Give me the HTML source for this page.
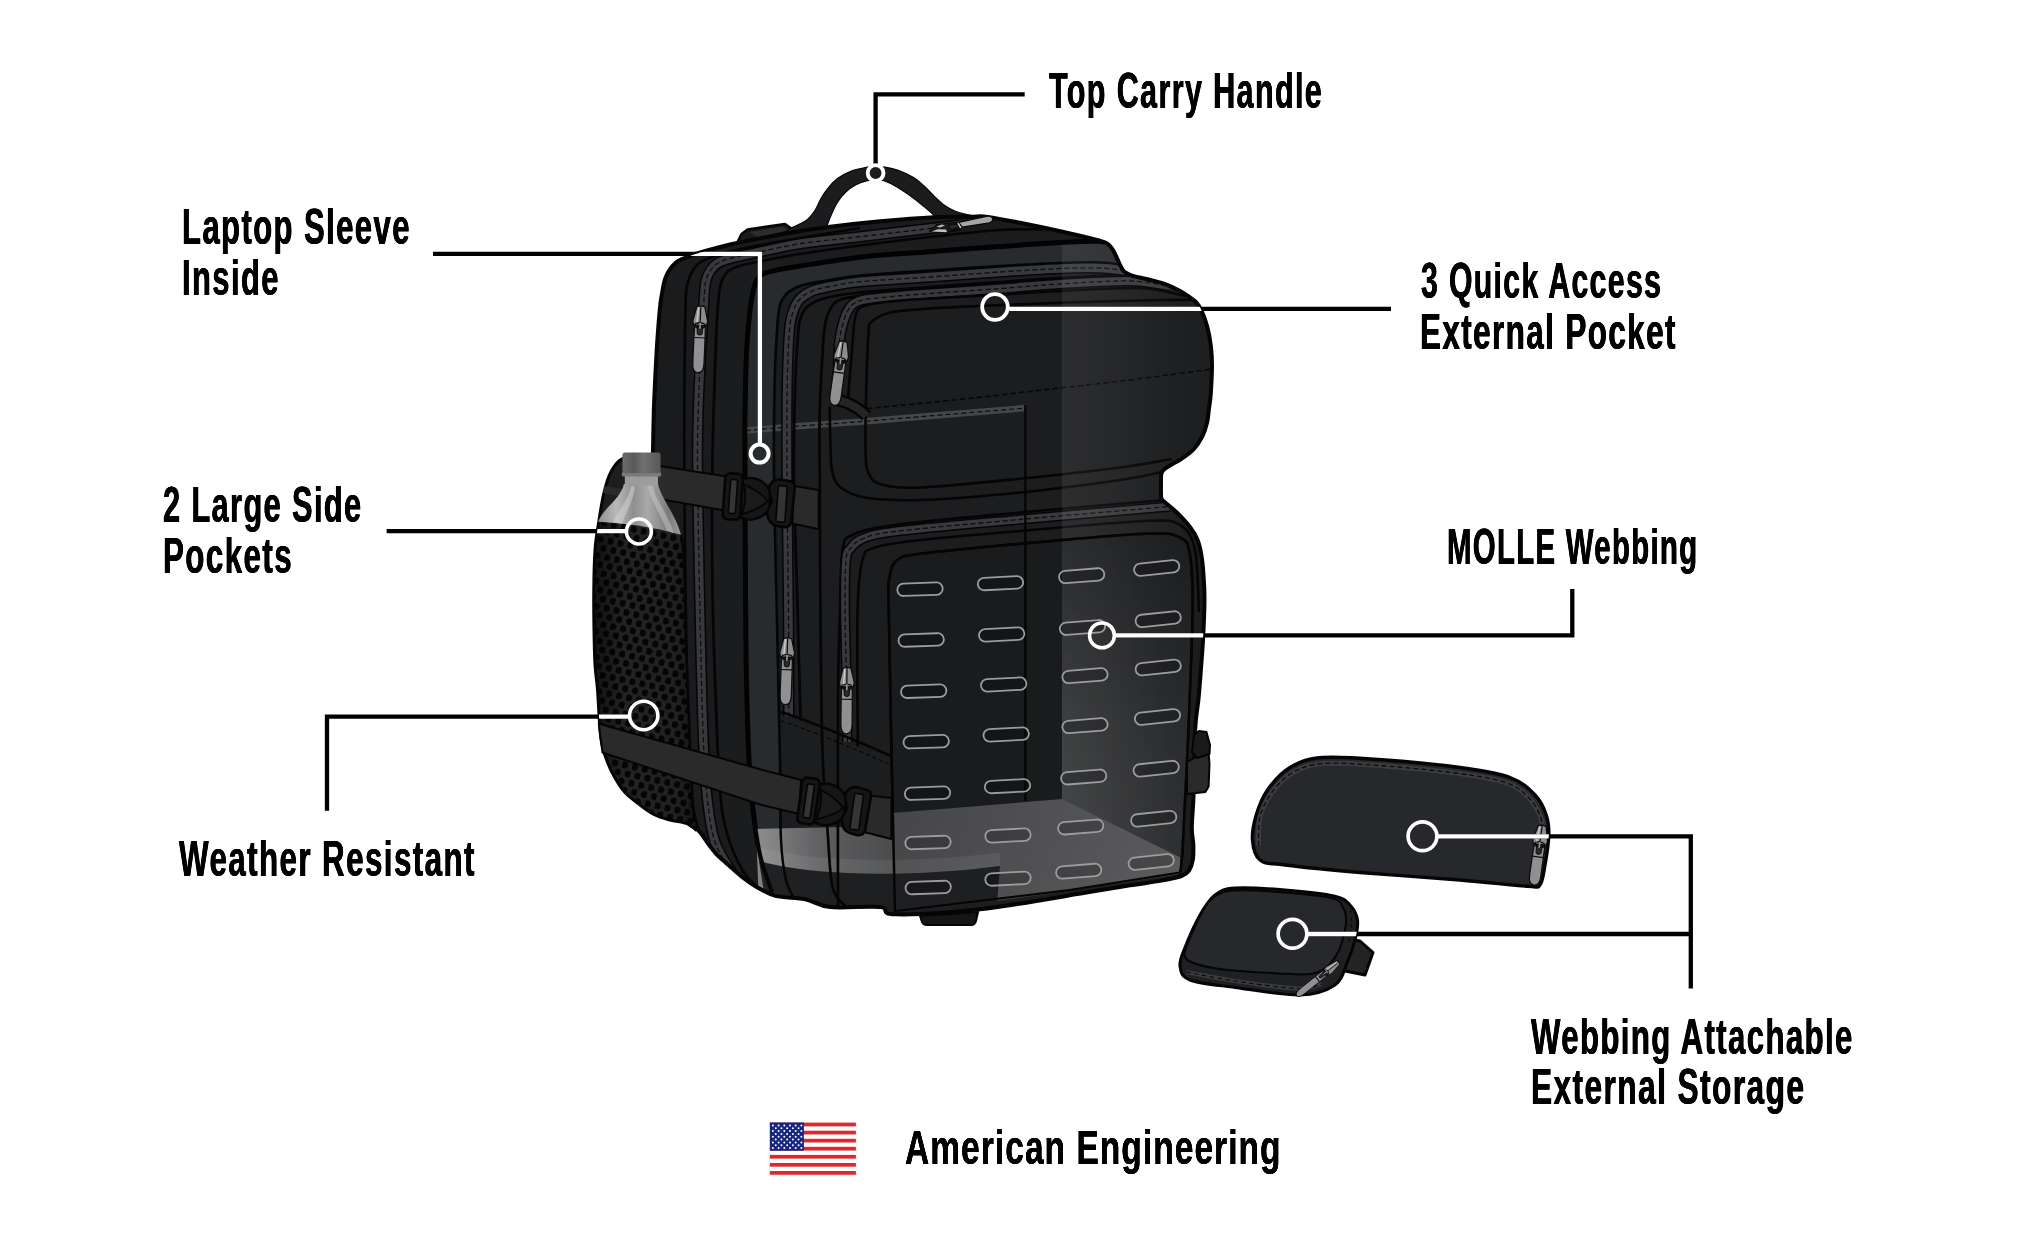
<!DOCTYPE html>
<html><head><meta charset="utf-8"><title>Backpack features</title>
<style>
html,body{margin:0;padding:0;background:#fff;}
body{width:2044px;height:1248px;position:relative;overflow:hidden;font-family:"Liberation Sans",sans-serif;}
svg{position:absolute;left:0;top:0;}
.t{position:absolute;white-space:nowrap;line-height:1;font-weight:bold;color:#000;transform-origin:0 0;letter-spacing:0;}
</style></head><body>
<svg width="2044" height="1248" viewBox="0 0 2044 1248">
<defs>
<clipPath id="cbag"><path d="M652.7,470.0C652.8,456.7 652.9,451.7 653.2,440.0C653.4,428.4 653.6,415.1 654.2,400.1C654.8,385.1 655.8,365.1 656.7,350.1C657.6,335.1 658.9,319.3 659.7,310.2C660.5,301.0 660.6,300.9 661.7,295.3C662.7,289.7 663.5,282.1 665.9,276.7C668.2,271.3 671.8,266.3 675.5,263.0C679.2,259.6 684.3,258.4 688.1,256.8C691.8,255.1 693.0,254.8 698.0,253.2C703.0,251.7 711.2,249.3 718.1,247.5C725.1,245.8 727.6,244.9 739.6,242.5C751.7,240.0 775.2,235.3 790.3,232.7C805.4,230.0 815.2,228.6 830.2,226.7C845.2,224.8 862.8,222.8 880.2,221.2C897.5,219.6 919.1,217.9 934.1,217.2C949.1,216.5 961.1,217.0 970.0,216.9C979.0,216.8 977.8,215.6 987.8,216.9C997.7,218.2 1015.0,221.7 1029.7,224.7C1044.3,227.6 1064.0,232.0 1075.6,234.7C1087.3,237.3 1094.3,239.2 1099.5,240.6C1104.8,242.1 1105.1,242.2 1107.1,243.4C1109.1,244.7 1110.2,246.1 1111.6,248.0C1113.0,249.9 1114.2,252.1 1115.5,254.8C1116.8,257.4 1118.1,261.0 1119.5,263.8C1120.9,266.5 1122.1,269.3 1123.7,271.1C1125.4,272.9 1127.3,273.6 1129.3,274.5C1131.3,275.5 1132.2,275.8 1135.6,276.6C1139.0,277.5 1144.9,278.5 1149.6,279.7C1154.3,280.8 1159.0,281.8 1163.9,283.6C1168.8,285.4 1174.9,288.2 1179.2,290.5C1183.5,292.8 1187.0,295.3 1189.9,297.3C1192.8,299.3 1194.6,300.3 1196.5,302.5C1198.4,304.7 1199.7,306.5 1201.5,310.5C1203.3,314.5 1205.7,320.7 1207.2,326.5C1208.8,332.3 1210.0,339.1 1210.8,345.5C1211.6,351.9 1212.0,356.6 1212.0,364.6C1212.0,372.6 1211.3,385.9 1210.8,393.5C1210.3,401.1 1209.4,405.2 1208.8,410.0C1208.2,414.8 1208.2,417.7 1207.2,422.0C1206.2,426.3 1204.8,431.4 1202.5,436.0C1200.2,440.6 1197.0,445.7 1193.5,449.5C1190.0,453.3 1185.4,456.1 1181.5,458.8C1177.6,461.5 1173.0,463.6 1170.0,465.5C1167.0,467.4 1165.0,468.6 1163.5,470.0C1162.0,471.4 1161.7,472.3 1161.3,474.0C1160.9,475.7 1161.0,476.7 1161.0,480.0C1161.0,483.3 1160.9,490.9 1161.0,494.0C1161.1,497.1 1161.0,497.2 1161.5,498.5C1162.0,499.8 1161.5,499.2 1164.0,501.5C1166.5,503.8 1172.5,508.2 1176.8,512.5C1181.1,516.8 1186.5,522.4 1190.0,527.0C1193.5,531.6 1195.7,535.3 1197.6,540.0C1199.5,544.7 1200.4,549.2 1201.4,555.0C1202.4,560.8 1203.0,567.5 1203.5,575.0C1204.0,582.5 1204.6,589.2 1204.5,600.0C1204.4,610.8 1203.7,627.5 1203.0,640.0C1202.3,652.5 1201.3,665.0 1200.5,675.0C1199.7,685.0 1199.3,691.0 1198.4,700.0C1197.5,709.0 1196.0,713.0 1195.2,729.0C1194.4,745.0 1194.1,779.5 1193.5,796.0C1192.9,812.5 1191.8,820.0 1191.8,828.0C1191.8,836.0 1193.1,838.7 1193.3,844.0C1193.5,849.3 1193.5,855.6 1192.8,860.0C1192.1,864.4 1190.9,867.8 1189.0,870.5C1187.1,873.2 1186.1,874.3 1181.5,876.0C1176.9,877.7 1170.1,879.0 1161.5,880.6C1152.9,882.2 1141.8,883.5 1130.0,885.4C1118.2,887.3 1115.7,887.8 1090.7,891.8C1065.7,895.8 1012.4,905.6 979.8,909.3C947.2,913.1 911.6,914.7 895.0,914.3C878.4,913.9 891.0,908.3 880.2,907.1C869.4,905.9 842.6,908.3 830.2,907.1C817.7,905.8 814.5,901.2 805.3,899.3C796.2,897.5 783.7,898.0 775.4,895.9C767.2,893.7 761.6,889.8 755.8,886.5C750.1,883.2 745.7,879.8 741.1,876.2C736.4,872.5 732.3,868.5 728.1,864.7C724.0,861.0 719.5,857.3 716.2,853.8C712.9,850.4 710.8,847.3 708.4,844.0C705.9,840.7 703.6,836.8 701.4,834.0C699.1,831.1 697.2,828.6 695.1,826.7C693.1,824.9 691.3,827.5 689.0,823.0C686.8,818.5 685.4,820.2 681.7,799.7C677.9,779.2 671.3,733.1 666.7,699.8C662.0,666.5 656.0,629.8 653.7,599.9C651.4,569.9 652.9,541.6 652.7,520.0C652.5,498.3 652.6,483.3 652.7,470.0Z"/><path d="M640.0,456.0C637.0,456.5 626.5,456.4 621.7,459.0C616.9,461.6 614.0,466.1 611.0,471.7C608.0,477.3 606.0,484.2 604.0,492.5C602.0,500.8 600.2,512.1 598.8,521.7C597.2,531.3 595.8,538.6 595.0,550.0C594.2,561.4 593.9,576.7 593.8,590.0C593.6,603.3 593.8,617.5 594.0,630.0C594.2,642.5 594.4,655.0 595.0,665.0C595.6,675.0 596.7,679.2 597.5,690.0C598.3,700.8 599.2,720.8 600.0,730.0C600.8,739.2 600.8,739.6 602.0,745.0C603.2,750.4 605.3,757.0 607.5,762.5C609.7,768.0 612.1,773.0 615.0,778.0C617.9,783.0 620.8,788.0 625.0,792.5C629.2,797.0 635.0,801.2 640.0,805.0C645.0,808.8 650.0,812.5 655.0,815.0C660.0,817.5 664.6,818.5 670.0,820.0C675.4,821.5 683.2,822.1 687.5,823.8C691.8,825.4 694.6,829.0 696.0,830.0L694.0,822.0C693.7,816.7 692.8,807.0 692.0,790.0C691.2,773.0 690.0,745.0 689.0,720.0C688.0,695.0 686.8,666.7 686.0,640.0C685.2,613.3 684.8,577.6 684.0,560.0C683.2,542.4 681.5,538.8 681.0,534.5L664,500 L660,470 Z"/></clipPath>
<clipPath id="cbody"><path d="M652.7,470.0C652.8,456.7 652.9,451.7 653.2,440.0C653.4,428.4 653.6,415.1 654.2,400.1C654.8,385.1 655.8,365.1 656.7,350.1C657.6,335.1 658.9,319.3 659.7,310.2C660.5,301.0 660.6,300.9 661.7,295.3C662.7,289.7 663.5,282.1 665.9,276.7C668.2,271.3 671.8,266.3 675.5,263.0C679.2,259.6 684.3,258.4 688.1,256.8C691.8,255.1 693.0,254.8 698.0,253.2C703.0,251.7 711.2,249.3 718.1,247.5C725.1,245.8 727.6,244.9 739.6,242.5C751.7,240.0 775.2,235.3 790.3,232.7C805.4,230.0 815.2,228.6 830.2,226.7C845.2,224.8 862.8,222.8 880.2,221.2C897.5,219.6 919.1,217.9 934.1,217.2C949.1,216.5 961.1,217.0 970.0,216.9C979.0,216.8 977.8,215.6 987.8,216.9C997.7,218.2 1015.0,221.7 1029.7,224.7C1044.3,227.6 1064.0,232.0 1075.6,234.7C1087.3,237.3 1094.3,239.2 1099.5,240.6C1104.8,242.1 1105.1,242.2 1107.1,243.4C1109.1,244.7 1110.2,246.1 1111.6,248.0C1113.0,249.9 1114.2,252.1 1115.5,254.8C1116.8,257.4 1118.1,261.0 1119.5,263.8C1120.9,266.5 1122.1,269.3 1123.7,271.1C1125.4,272.9 1127.3,273.6 1129.3,274.5C1131.3,275.5 1132.2,275.8 1135.6,276.6C1139.0,277.5 1144.9,278.5 1149.6,279.7C1154.3,280.8 1159.0,281.8 1163.9,283.6C1168.8,285.4 1174.9,288.2 1179.2,290.5C1183.5,292.8 1187.0,295.3 1189.9,297.3C1192.8,299.3 1194.6,300.3 1196.5,302.5C1198.4,304.7 1199.7,306.5 1201.5,310.5C1203.3,314.5 1205.7,320.7 1207.2,326.5C1208.8,332.3 1210.0,339.1 1210.8,345.5C1211.6,351.9 1212.0,356.6 1212.0,364.6C1212.0,372.6 1211.3,385.9 1210.8,393.5C1210.3,401.1 1209.4,405.2 1208.8,410.0C1208.2,414.8 1208.2,417.7 1207.2,422.0C1206.2,426.3 1204.8,431.4 1202.5,436.0C1200.2,440.6 1197.0,445.7 1193.5,449.5C1190.0,453.3 1185.4,456.1 1181.5,458.8C1177.6,461.5 1173.0,463.6 1170.0,465.5C1167.0,467.4 1165.0,468.6 1163.5,470.0C1162.0,471.4 1161.7,472.3 1161.3,474.0C1160.9,475.7 1161.0,476.7 1161.0,480.0C1161.0,483.3 1160.9,490.9 1161.0,494.0C1161.1,497.1 1161.0,497.2 1161.5,498.5C1162.0,499.8 1161.5,499.2 1164.0,501.5C1166.5,503.8 1172.5,508.2 1176.8,512.5C1181.1,516.8 1186.5,522.4 1190.0,527.0C1193.5,531.6 1195.7,535.3 1197.6,540.0C1199.5,544.7 1200.4,549.2 1201.4,555.0C1202.4,560.8 1203.0,567.5 1203.5,575.0C1204.0,582.5 1204.6,589.2 1204.5,600.0C1204.4,610.8 1203.7,627.5 1203.0,640.0C1202.3,652.5 1201.3,665.0 1200.5,675.0C1199.7,685.0 1199.3,691.0 1198.4,700.0C1197.5,709.0 1196.0,713.0 1195.2,729.0C1194.4,745.0 1194.1,779.5 1193.5,796.0C1192.9,812.5 1191.8,820.0 1191.8,828.0C1191.8,836.0 1193.1,838.7 1193.3,844.0C1193.5,849.3 1193.5,855.6 1192.8,860.0C1192.1,864.4 1190.9,867.8 1189.0,870.5C1187.1,873.2 1186.1,874.3 1181.5,876.0C1176.9,877.7 1170.1,879.0 1161.5,880.6C1152.9,882.2 1141.8,883.5 1130.0,885.4C1118.2,887.3 1115.7,887.8 1090.7,891.8C1065.7,895.8 1012.4,905.6 979.8,909.3C947.2,913.1 911.6,914.7 895.0,914.3C878.4,913.9 891.0,908.3 880.2,907.1C869.4,905.9 842.6,908.3 830.2,907.1C817.7,905.8 814.5,901.2 805.3,899.3C796.2,897.5 783.7,898.0 775.4,895.9C767.2,893.7 761.6,889.8 755.8,886.5C750.1,883.2 745.7,879.8 741.1,876.2C736.4,872.5 732.3,868.5 728.1,864.7C724.0,861.0 719.5,857.3 716.2,853.8C712.9,850.4 710.8,847.3 708.4,844.0C705.9,840.7 703.6,836.8 701.4,834.0C699.1,831.1 697.2,828.6 695.1,826.7C693.1,824.9 691.3,827.5 689.0,823.0C686.8,818.5 685.4,820.2 681.7,799.7C677.9,779.2 671.3,733.1 666.7,699.8C662.0,666.5 656.0,629.8 653.7,599.9C651.4,569.9 652.9,541.6 652.7,520.0C652.5,498.3 652.6,483.3 652.7,470.0Z"/></clipPath>
<clipPath id="cside"><path d="M640.0,456.0C637.0,456.5 626.5,456.4 621.7,459.0C616.9,461.6 614.0,466.1 611.0,471.7C608.0,477.3 606.0,484.2 604.0,492.5C602.0,500.8 600.2,512.1 598.8,521.7C597.2,531.3 595.8,538.6 595.0,550.0C594.2,561.4 593.9,576.7 593.8,590.0C593.6,603.3 593.8,617.5 594.0,630.0C594.2,642.5 594.4,655.0 595.0,665.0C595.6,675.0 596.7,679.2 597.5,690.0C598.3,700.8 599.2,720.8 600.0,730.0C600.8,739.2 600.8,739.6 602.0,745.0C603.2,750.4 605.3,757.0 607.5,762.5C609.7,768.0 612.1,773.0 615.0,778.0C617.9,783.0 620.8,788.0 625.0,792.5C629.2,797.0 635.0,801.2 640.0,805.0C645.0,808.8 650.0,812.5 655.0,815.0C660.0,817.5 664.6,818.5 670.0,820.0C675.4,821.5 683.2,822.1 687.5,823.8C691.8,825.4 694.6,829.0 696.0,830.0L694.0,822.0C693.7,816.7 692.8,807.0 692.0,790.0C691.2,773.0 690.0,745.0 689.0,720.0C688.0,695.0 686.8,666.7 686.0,640.0C685.2,613.3 684.8,577.6 684.0,560.0C683.2,542.4 681.5,538.8 681.0,534.5L664,500 L660,470 Z"/></clipPath>
<pattern id="mesh" width="10.1" height="16.6" patternUnits="userSpaceOnUse" patternTransform="rotate(12)">
<rect width="10.1" height="16.6" fill="#232323"/>
<circle cx="2.525" cy="4.15" r="3.45" fill="#050505"/><circle cx="7.575" cy="12.45" r="3.45" fill="#050505"/>
</pattern>
<linearGradient id="meshsh" x1="0" x2="1" y1="0" y2="0">
<stop offset="0" stop-color="#000" stop-opacity=".5"/><stop offset=".3" stop-color="#000" stop-opacity="0"/><stop offset=".8" stop-color="#000" stop-opacity=".05"/><stop offset="1" stop-color="#000" stop-opacity=".4"/>
</linearGradient>
<linearGradient id="bot" x1="0" x2="1" y1="0" y2="0">
<stop offset="0" stop-color="#8d8d8d"/><stop offset=".22" stop-color="#b9b9b9"/><stop offset=".42" stop-color="#8f8f8f"/><stop offset=".6" stop-color="#a9a9a9"/><stop offset=".85" stop-color="#7b7b7b"/><stop offset="1" stop-color="#9a9a9a"/>
</linearGradient>
<linearGradient id="cap" x1="0" x2="1" y1="0" y2="0">
<stop offset="0" stop-color="#6a6a6a"/><stop offset=".3" stop-color="#5a5a5a"/><stop offset=".55" stop-color="#707070"/><stop offset="1" stop-color="#585858"/>
</linearGradient>
</defs>
<path d="M737.0,243.0L741.5,234.0L747.5,229.5L785.0,224.0L792.0,229.0L770.0,242.0Z" fill="#1b1b1d" stroke="#050505" stroke-width="2.5" stroke-linejoin="round"/>
<path d="M750.0,232.0L784.0,226.5L787.0,230.0L760.0,239.0Z" fill="#2c2c2e"/>
<path d="M786.0,232.0C786.7,231.4 787.0,230.4 790.3,228.5C793.6,226.6 801.6,223.8 805.7,220.8C809.8,217.8 812.3,214.3 814.9,210.5C817.5,206.7 818.9,202.0 821.1,198.2C823.3,194.4 825.6,191.2 828.3,187.9C831.0,184.6 833.6,181.4 837.5,178.6C841.4,175.8 846.9,172.8 851.9,170.9C856.9,169.0 863.4,167.9 867.3,167.1C871.2,166.3 872.6,166.3 875.5,166.3C878.4,166.3 881.0,166.4 884.8,167.1C888.6,167.8 893.4,168.7 898.2,170.4C903.0,172.2 909.3,175.0 913.6,177.6C917.9,180.2 920.4,182.7 923.8,185.8C927.2,188.9 930.7,192.8 934.1,196.1C937.5,199.3 941.0,202.8 944.4,205.3C947.8,207.8 951.3,209.5 954.7,211.0C958.1,212.5 960.5,213.1 965.0,214.1C969.5,215.1 979.2,216.5 982.0,217.0L934.5,217.0C934.3,216.6 934.9,216.4 933.1,214.6C931.3,212.8 927.0,209.1 923.8,206.4C920.5,203.7 917.0,200.8 913.6,198.2C910.2,195.6 906.7,193.2 903.3,191.0C899.9,188.8 896.2,186.5 893.0,184.8C889.8,183.1 886.7,181.5 883.8,180.7C880.9,179.8 878.2,179.7 875.5,179.7C872.8,179.7 870.5,179.8 867.3,180.7C864.0,181.5 859.6,182.9 856.0,184.8C852.4,186.7 848.9,189.1 845.8,192.0C842.7,194.9 839.9,198.5 837.5,202.3C835.1,206.1 833.1,210.8 831.4,214.6C829.7,218.4 828.1,222.8 827.3,224.9C826.5,227.0 826.6,226.7 826.5,227.0Z" fill="#1c1c1e" stroke="#050505" stroke-width="1.2" stroke-linejoin="round"/>
<path d="M652.7,470.0C652.8,456.7 652.9,451.7 653.2,440.0C653.4,428.4 653.6,415.1 654.2,400.1C654.8,385.1 655.8,365.1 656.7,350.1C657.6,335.1 658.9,319.3 659.7,310.2C660.5,301.0 660.6,300.9 661.7,295.3C662.7,289.7 663.5,282.1 665.9,276.7C668.2,271.3 671.8,266.3 675.5,263.0C679.2,259.6 684.3,258.4 688.1,256.8C691.8,255.1 693.0,254.8 698.0,253.2C703.0,251.7 711.2,249.3 718.1,247.5C725.1,245.8 727.6,244.9 739.6,242.5C751.7,240.0 775.2,235.3 790.3,232.7C805.4,230.0 815.2,228.6 830.2,226.7C845.2,224.8 862.8,222.8 880.2,221.2C897.5,219.6 919.1,217.9 934.1,217.2C949.1,216.5 961.1,217.0 970.0,216.9C979.0,216.8 977.8,215.6 987.8,216.9C997.7,218.2 1015.0,221.7 1029.7,224.7C1044.3,227.6 1064.0,232.0 1075.6,234.7C1087.3,237.3 1094.3,239.2 1099.5,240.6C1104.8,242.1 1105.1,242.2 1107.1,243.4C1109.1,244.7 1110.2,246.1 1111.6,248.0C1113.0,249.9 1114.2,252.1 1115.5,254.8C1116.8,257.4 1118.1,261.0 1119.5,263.8C1120.9,266.5 1122.1,269.3 1123.7,271.1C1125.4,272.9 1127.3,273.6 1129.3,274.5C1131.3,275.5 1132.2,275.8 1135.6,276.6C1139.0,277.5 1144.9,278.5 1149.6,279.7C1154.3,280.8 1159.0,281.8 1163.9,283.6C1168.8,285.4 1174.9,288.2 1179.2,290.5C1183.5,292.8 1187.0,295.3 1189.9,297.3C1192.8,299.3 1194.6,300.3 1196.5,302.5C1198.4,304.7 1199.7,306.5 1201.5,310.5C1203.3,314.5 1205.7,320.7 1207.2,326.5C1208.8,332.3 1210.0,339.1 1210.8,345.5C1211.6,351.9 1212.0,356.6 1212.0,364.6C1212.0,372.6 1211.3,385.9 1210.8,393.5C1210.3,401.1 1209.4,405.2 1208.8,410.0C1208.2,414.8 1208.2,417.7 1207.2,422.0C1206.2,426.3 1204.8,431.4 1202.5,436.0C1200.2,440.6 1197.0,445.7 1193.5,449.5C1190.0,453.3 1185.4,456.1 1181.5,458.8C1177.6,461.5 1173.0,463.6 1170.0,465.5C1167.0,467.4 1165.0,468.6 1163.5,470.0C1162.0,471.4 1161.7,472.3 1161.3,474.0C1160.9,475.7 1161.0,476.7 1161.0,480.0C1161.0,483.3 1160.9,490.9 1161.0,494.0C1161.1,497.1 1161.0,497.2 1161.5,498.5C1162.0,499.8 1161.5,499.2 1164.0,501.5C1166.5,503.8 1172.5,508.2 1176.8,512.5C1181.1,516.8 1186.5,522.4 1190.0,527.0C1193.5,531.6 1195.7,535.3 1197.6,540.0C1199.5,544.7 1200.4,549.2 1201.4,555.0C1202.4,560.8 1203.0,567.5 1203.5,575.0C1204.0,582.5 1204.6,589.2 1204.5,600.0C1204.4,610.8 1203.7,627.5 1203.0,640.0C1202.3,652.5 1201.3,665.0 1200.5,675.0C1199.7,685.0 1199.3,691.0 1198.4,700.0C1197.5,709.0 1196.0,713.0 1195.2,729.0C1194.4,745.0 1194.1,779.5 1193.5,796.0C1192.9,812.5 1191.8,820.0 1191.8,828.0C1191.8,836.0 1193.1,838.7 1193.3,844.0C1193.5,849.3 1193.5,855.6 1192.8,860.0C1192.1,864.4 1190.9,867.8 1189.0,870.5C1187.1,873.2 1186.1,874.3 1181.5,876.0C1176.9,877.7 1170.1,879.0 1161.5,880.6C1152.9,882.2 1141.8,883.5 1130.0,885.4C1118.2,887.3 1115.7,887.8 1090.7,891.8C1065.7,895.8 1012.4,905.6 979.8,909.3C947.2,913.1 911.6,914.7 895.0,914.3C878.4,913.9 891.0,908.3 880.2,907.1C869.4,905.9 842.6,908.3 830.2,907.1C817.7,905.8 814.5,901.2 805.3,899.3C796.2,897.5 783.7,898.0 775.4,895.9C767.2,893.7 761.6,889.8 755.8,886.5C750.1,883.2 745.7,879.8 741.1,876.2C736.4,872.5 732.3,868.5 728.1,864.7C724.0,861.0 719.5,857.3 716.2,853.8C712.9,850.4 710.8,847.3 708.4,844.0C705.9,840.7 703.6,836.8 701.4,834.0C699.1,831.1 697.2,828.6 695.1,826.7C693.1,824.9 691.3,827.5 689.0,823.0C686.8,818.5 685.4,820.2 681.7,799.7C677.9,779.2 671.3,733.1 666.7,699.8C662.0,666.5 656.0,629.8 653.7,599.9C651.4,569.9 652.9,541.6 652.7,520.0C652.5,498.3 652.6,483.3 652.7,470.0Z" fill="#1a1b1d"/>
<g clip-path="url(#cbody)">
<path d="M772.0,892.0C770.0,885.8 763.2,869.5 760.0,855.0C756.8,840.5 754.3,820.8 752.5,805.0C750.7,789.2 750.0,780.8 749.0,760.0C748.0,739.2 747.1,708.3 746.5,680.0C745.9,651.7 745.8,624.5 745.5,590.0C745.2,555.5 745.1,502.4 745.0,472.7C744.9,443.0 744.7,432.1 745.0,411.8C745.3,391.5 745.9,367.1 746.6,351.0C747.4,334.9 748.4,325.2 749.5,315.0C750.6,304.8 752.1,295.8 753.4,290.0C754.6,284.2 755.4,282.7 757.0,280.0C758.6,277.3 759.9,275.6 763.0,274.0C766.1,272.4 769.2,271.7 775.4,270.4C781.6,269.1 785.9,268.2 800.0,266.0C814.1,263.8 838.3,259.6 860.0,257.2C881.7,254.8 906.7,253.5 930.0,251.7C953.3,249.9 978.3,248.0 1000.0,246.5C1021.7,245.0 1043.3,243.4 1060.0,242.6C1076.7,241.8 1091.0,240.9 1100.0,241.5C1109.0,242.1 1111.7,245.2 1114.0,246.0L1122.0,265.0C1118.3,264.6 1110.3,262.8 1100.0,262.5C1089.7,262.2 1076.7,262.4 1060.0,263.0C1043.3,263.6 1021.7,264.8 1000.0,266.0C978.3,267.2 953.3,268.9 930.0,270.5C906.7,272.1 876.7,273.9 860.0,275.5C843.3,277.1 839.5,278.4 830.0,280.0C820.5,281.6 810.0,282.9 803.0,285.0C796.0,287.1 791.8,289.2 788.0,292.5C784.2,295.8 781.8,298.8 780.0,305.0C778.2,311.2 777.9,317.3 777.0,330.0C776.1,342.7 775.2,357.6 774.7,381.4C774.2,405.2 773.7,436.3 774.0,472.7C774.3,509.1 775.5,552.1 776.5,600.0C777.5,647.9 779.2,720.0 780.0,760.0C780.8,800.0 780.0,820.0 781.0,840.0C782.0,860.0 783.7,870.0 786.0,880.0C788.3,890.0 793.5,896.7 795.0,900.0Z" fill="#282b2e"/>
<path d="M758.0,888.0C755.4,885.0 747.6,878.8 742.5,870.0C737.4,861.2 731.2,848.3 727.5,835.0C723.8,821.7 722.1,815.8 720.0,790.0C717.9,764.2 716.2,713.3 715.0,680.0C713.8,646.7 713.0,624.5 712.5,590.0C712.0,555.5 711.9,507.5 712.3,472.7C712.6,437.9 713.8,406.8 714.6,381.4C715.4,355.9 716.2,334.9 717.0,320.0C717.8,305.1 718.4,298.6 719.2,292.0C720.0,285.4 720.5,284.0 722.0,280.5C723.5,277.0 725.6,273.4 728.5,271.0C731.4,268.6 734.4,267.6 739.3,266.0C744.2,264.4 747.6,263.7 757.7,261.7C767.8,259.7 783.0,256.7 800.0,254.0C817.0,251.3 838.3,248.3 860.0,245.5C881.7,242.7 906.7,239.6 930.0,237.0C953.3,234.4 978.3,231.3 1000.0,230.0C1021.7,228.7 1050.0,229.2 1060.0,229.0L1114.0,246.0C1111.7,245.2 1109.0,242.1 1100.0,241.5C1091.0,240.9 1076.7,241.8 1060.0,242.6C1043.3,243.4 1021.7,245.0 1000.0,246.5C978.3,248.0 953.3,249.9 930.0,251.7C906.7,253.5 881.7,254.8 860.0,257.2C838.3,259.6 814.1,263.8 800.0,266.0C785.9,268.2 781.6,269.1 775.4,270.4C769.2,271.7 766.1,272.4 763.0,274.0C759.9,275.6 758.6,277.3 757.0,280.0C755.4,282.7 754.6,284.2 753.4,290.0C752.1,295.8 750.6,304.8 749.5,315.0C748.4,325.2 747.4,334.9 746.6,351.0C745.9,367.1 745.3,391.5 745.0,411.8C744.7,432.1 744.9,443.0 745.0,472.7C745.1,502.4 745.2,555.5 745.5,590.0C745.8,624.5 745.9,651.7 746.5,680.0C747.1,708.3 748.0,739.2 749.0,760.0C750.0,780.8 750.7,789.2 752.5,805.0C754.3,820.8 756.8,840.5 760.0,855.0C763.2,869.5 770.0,885.8 772.0,892.0Z" fill="#1b1c1e"/>
<path d="M795.0,900.0C793.5,896.7 788.3,890.0 786.0,880.0C783.7,870.0 782.0,860.0 781.0,840.0C780.0,820.0 780.8,800.0 780.0,760.0C779.2,720.0 777.5,647.9 776.5,600.0C775.5,552.1 774.3,509.1 774.0,472.7C773.7,436.3 774.2,405.2 774.7,381.4C775.2,357.6 776.1,342.7 777.0,330.0C777.9,317.3 778.2,311.2 780.0,305.0C781.8,298.8 784.2,295.8 788.0,292.5C791.8,289.2 796.0,287.1 803.0,285.0C810.0,282.9 820.5,281.6 830.0,280.0C839.5,278.4 843.3,277.1 860.0,275.5C876.7,273.9 906.7,272.1 930.0,270.5C953.3,268.9 978.3,267.2 1000.0,266.0C1021.7,264.8 1043.3,263.6 1060.0,263.0C1076.7,262.4 1089.7,262.2 1100.0,262.5C1110.3,262.8 1118.3,264.6 1122.0,265.0L1215,300 L1215,930 L800,930Z" fill="#1c1d1f"/>
<path d="M746.0,430.5L800.0,426.0L860.0,421.7L1026.0,408.0" fill="none" stroke="#444648" stroke-width="6.5"/>
<path d="M746.0,430.5L800.0,426.0L860.0,421.7L1026.0,408.0" fill="none" stroke="#0c0c0c" stroke-width="1.2" stroke-dasharray="5 3"/>
<path d="M700.0,835.0C699.0,831.2 695.6,820.3 694.0,812.0C692.4,803.7 691.4,797.0 690.5,785.0C689.6,773.0 689.1,757.5 688.5,740.0C687.9,722.5 687.5,705.0 687.0,680.0C686.5,655.0 686.0,627.1 685.5,590.0C685.0,552.9 684.4,493.3 684.2,457.5C684.0,421.7 684.2,401.2 684.5,375.0C684.8,348.8 685.1,315.5 685.7,300.0C686.3,284.5 686.8,287.0 688.0,282.0C689.2,277.0 691.0,273.2 693.0,270.0C695.0,266.8 696.8,264.7 700.0,262.5C703.2,260.3 705.3,259.2 712.0,257.0C718.7,254.8 725.3,252.2 740.0,249.0C754.7,245.8 780.0,241.5 800.0,238.0C820.0,234.5 850.0,229.7 860.0,228.0" fill="none" stroke="#050505" stroke-width="2.6"/>
<path d="M795.0,900.0C793.5,896.7 788.3,890.0 786.0,880.0C783.7,870.0 782.0,860.0 781.0,840.0C780.0,820.0 780.8,800.0 780.0,760.0C779.2,720.0 777.5,647.9 776.5,600.0C775.5,552.1 774.3,509.1 774.0,472.7C773.7,436.3 774.2,405.2 774.7,381.4C775.2,357.6 776.1,342.7 777.0,330.0C777.9,317.3 778.2,311.2 780.0,305.0C781.8,298.8 784.2,295.8 788.0,292.5C791.8,289.2 796.0,287.1 803.0,285.0C810.0,282.9 820.5,281.6 830.0,280.0C839.5,278.4 843.3,277.1 860.0,275.5C876.7,273.9 906.7,272.1 930.0,270.5C953.3,268.9 978.3,267.2 1000.0,266.0C1021.7,264.8 1043.3,263.6 1060.0,263.0C1076.7,262.4 1089.7,262.2 1100.0,262.5C1110.3,262.8 1118.3,264.6 1122.0,265.0" fill="none" stroke="#050505" stroke-width="2.6"/>
<path d="M758.0,888.0C755.4,885.0 747.6,878.8 742.5,870.0C737.4,861.2 731.2,848.3 727.5,835.0C723.8,821.7 722.1,815.8 720.0,790.0C717.9,764.2 716.2,713.3 715.0,680.0C713.8,646.7 713.0,624.5 712.5,590.0C712.0,555.5 711.9,507.5 712.3,472.7C712.6,437.9 713.8,406.8 714.6,381.4C715.4,355.9 716.2,334.9 717.0,320.0C717.8,305.1 718.4,298.6 719.2,292.0C720.0,285.4 720.5,284.0 722.0,280.5C723.5,277.0 725.6,273.4 728.5,271.0C731.4,268.6 734.4,267.6 739.3,266.0C744.2,264.4 747.6,263.7 757.7,261.7C767.8,259.7 783.0,256.7 800.0,254.0C817.0,251.3 838.3,248.3 860.0,245.5C881.7,242.7 906.7,239.6 930.0,237.0C953.3,234.4 978.3,231.3 1000.0,230.0C1021.7,228.7 1050.0,229.2 1060.0,229.0" fill="none" stroke="#050505" stroke-width="2.7"/>
<path d="M772.0,892.0C770.0,885.8 763.2,869.5 760.0,855.0C756.8,840.5 754.3,820.8 752.5,805.0C750.7,789.2 750.0,780.8 749.0,760.0C748.0,739.2 747.1,708.3 746.5,680.0C745.9,651.7 745.8,624.5 745.5,590.0C745.2,555.5 745.1,502.4 745.0,472.7C744.9,443.0 744.7,432.1 745.0,411.8C745.3,391.5 745.9,367.1 746.6,351.0C747.4,334.9 748.4,325.2 749.5,315.0C750.6,304.8 752.1,295.8 753.4,290.0C754.6,284.2 755.4,282.7 757.0,280.0C758.6,277.3 759.9,275.6 763.0,274.0C766.1,272.4 769.2,271.7 775.4,270.4C781.6,269.1 785.9,268.2 800.0,266.0C814.1,263.8 838.3,259.6 860.0,257.2C881.7,254.8 906.7,253.5 930.0,251.7C953.3,249.9 978.3,248.0 1000.0,246.5C1021.7,245.0 1043.3,243.4 1060.0,242.6C1076.7,241.8 1091.0,240.9 1100.0,241.5C1109.0,242.1 1111.7,245.2 1114.0,246.0" fill="none" stroke="#020202" stroke-width="5"/>
<path d="M800.6,720.5C800.0,700.4 798.4,641.3 797.3,600.0C796.2,558.7 794.1,509.1 793.8,472.7C793.5,436.3 794.6,404.3 795.3,381.4C796.0,358.4 797.2,345.2 798.0,335.0C798.8,324.8 798.7,324.5 800.0,320.0C801.3,315.5 803.0,311.2 806.0,308.0C809.0,304.8 813.2,302.5 818.0,300.5C822.8,298.5 828.0,297.3 835.0,296.0C842.0,294.7 844.2,294.0 860.0,292.5C875.8,291.0 906.7,288.8 930.0,287.0C953.3,285.2 978.3,283.5 1000.0,282.0C1021.7,280.5 1038.3,279.3 1060.0,278.0C1081.7,276.7 1118.3,274.7 1130.0,274.0" fill="none" stroke="#050505" stroke-width="2.7"/>
<path d="M845.0,906.0C842.9,902.8 835.4,899.7 832.5,887.0C829.6,874.3 829.2,852.5 827.5,830.0C825.8,807.5 823.7,787.0 822.5,752.0C821.3,717.0 821.0,666.5 820.5,620.0C820.0,573.5 819.8,507.4 819.7,472.7C819.6,438.0 819.2,432.1 819.7,411.8C820.2,391.5 821.8,365.5 822.7,351.0C823.6,336.5 823.8,331.9 825.0,325.0C826.2,318.1 827.4,313.8 830.0,309.5C832.6,305.2 833.8,302.0 840.8,299.5C847.8,297.0 857.1,296.2 872.0,294.5C886.9,292.8 908.7,291.2 930.0,289.5C951.3,287.8 978.3,286.0 1000.0,284.4C1021.7,282.8 1038.3,281.3 1060.0,280.0C1081.7,278.7 1118.3,277.1 1130.0,276.5" fill="none" stroke="#050505" stroke-width="2.7"/>
<path d="M742.0,885.0C740.0,882.5 734.5,877.2 730.0,870.0C725.5,862.8 718.7,852.8 715.0,842.0C711.3,831.2 709.8,819.5 708.0,805.0C706.2,790.5 705.1,775.8 704.0,755.0C702.9,734.2 702.2,707.5 701.5,680.0C700.8,652.5 700.2,626.7 699.5,590.0C698.8,553.3 697.6,491.7 697.5,460.0C697.4,428.3 698.0,418.3 698.6,400.0C699.2,381.7 700.0,367.5 701.0,350.0C702.0,332.5 703.5,306.6 704.3,295.0C705.1,283.4 705.0,284.6 706.0,280.5C707.0,276.4 708.5,273.3 710.5,270.4C712.5,267.5 714.1,265.3 717.7,263.2C721.3,261.1 724.8,259.9 732.0,258.0C739.2,256.1 749.7,254.0 761.0,251.6C772.3,249.2 783.5,246.2 800.0,243.7C816.5,241.2 838.3,239.2 860.0,236.7C881.7,234.2 913.3,230.4 930.0,228.5C946.7,226.6 955.0,225.6 960.0,225.0" fill="none" stroke="#050505" stroke-width="11.5"/>
<path d="M742.0,885.0C740.0,882.5 734.5,877.2 730.0,870.0C725.5,862.8 718.7,852.8 715.0,842.0C711.3,831.2 709.8,819.5 708.0,805.0C706.2,790.5 705.1,775.8 704.0,755.0C702.9,734.2 702.2,707.5 701.5,680.0C700.8,652.5 700.2,626.7 699.5,590.0C698.8,553.3 697.6,491.7 697.5,460.0C697.4,428.3 698.0,418.3 698.6,400.0C699.2,381.7 700.0,367.5 701.0,350.0C702.0,332.5 703.5,306.6 704.3,295.0C705.1,283.4 705.0,284.6 706.0,280.5C707.0,276.4 708.5,273.3 710.5,270.4C712.5,267.5 714.1,265.3 717.7,263.2C721.3,261.1 724.8,259.9 732.0,258.0C739.2,256.1 749.7,254.0 761.0,251.6C772.3,249.2 783.5,246.2 800.0,243.7C816.5,241.2 838.3,239.2 860.0,236.7C881.7,234.2 913.3,230.4 930.0,228.5C946.7,226.6 955.0,225.6 960.0,225.0" fill="none" stroke="#38393c" stroke-width="8.5"/>
<path d="M742.0,885.0C740.0,882.5 734.5,877.2 730.0,870.0C725.5,862.8 718.7,852.8 715.0,842.0C711.3,831.2 709.8,819.5 708.0,805.0C706.2,790.5 705.1,775.8 704.0,755.0C702.9,734.2 702.2,707.5 701.5,680.0C700.8,652.5 700.2,626.7 699.5,590.0C698.8,553.3 697.6,491.7 697.5,460.0C697.4,428.3 698.0,418.3 698.6,400.0C699.2,381.7 700.0,367.5 701.0,350.0C702.0,332.5 703.5,306.6 704.3,295.0C705.1,283.4 705.0,284.6 706.0,280.5C707.0,276.4 708.5,273.3 710.5,270.4C712.5,267.5 714.1,265.3 717.7,263.2C721.3,261.1 724.8,259.9 732.0,258.0C739.2,256.1 749.7,254.0 761.0,251.6C772.3,249.2 783.5,246.2 800.0,243.7C816.5,241.2 838.3,239.2 860.0,236.7C881.7,234.2 913.3,230.4 930.0,228.5C946.7,226.6 955.0,225.6 960.0,225.0" fill="none" stroke="#0c0c0c" stroke-width="1.3" stroke-dasharray="5 3"/>
<path d="M788.8,716.5C788.8,700.4 788.8,660.8 788.5,620.0C788.2,579.2 787.2,511.8 787.0,472.0C786.8,432.2 786.9,404.7 787.3,381.0C787.7,357.3 788.5,341.5 789.5,330.0C790.5,318.5 791.3,317.1 793.0,312.0C794.7,306.9 796.3,303.0 799.5,299.5C802.7,296.0 806.9,293.2 812.0,291.0C817.1,288.8 822.0,288.1 830.0,286.5C838.0,284.9 843.3,283.3 860.0,281.7C876.7,280.1 906.7,278.6 930.0,277.0C953.3,275.4 978.3,273.4 1000.0,272.0C1021.7,270.6 1043.3,269.2 1060.0,268.5C1076.7,267.8 1089.2,267.7 1100.0,268.0C1110.8,268.3 1120.8,270.1 1125.0,270.5" fill="none" stroke="#050505" stroke-width="11.5"/>
<path d="M788.8,716.5C788.8,700.4 788.8,660.8 788.5,620.0C788.2,579.2 787.2,511.8 787.0,472.0C786.8,432.2 786.9,404.7 787.3,381.0C787.7,357.3 788.5,341.5 789.5,330.0C790.5,318.5 791.3,317.1 793.0,312.0C794.7,306.9 796.3,303.0 799.5,299.5C802.7,296.0 806.9,293.2 812.0,291.0C817.1,288.8 822.0,288.1 830.0,286.5C838.0,284.9 843.3,283.3 860.0,281.7C876.7,280.1 906.7,278.6 930.0,277.0C953.3,275.4 978.3,273.4 1000.0,272.0C1021.7,270.6 1043.3,269.2 1060.0,268.5C1076.7,267.8 1089.2,267.7 1100.0,268.0C1110.8,268.3 1120.8,270.1 1125.0,270.5" fill="none" stroke="#38393c" stroke-width="8.5"/>
<path d="M788.8,716.5C788.8,700.4 788.8,660.8 788.5,620.0C788.2,579.2 787.2,511.8 787.0,472.0C786.8,432.2 786.9,404.7 787.3,381.0C787.7,357.3 788.5,341.5 789.5,330.0C790.5,318.5 791.3,317.1 793.0,312.0C794.7,306.9 796.3,303.0 799.5,299.5C802.7,296.0 806.9,293.2 812.0,291.0C817.1,288.8 822.0,288.1 830.0,286.5C838.0,284.9 843.3,283.3 860.0,281.7C876.7,280.1 906.7,278.6 930.0,277.0C953.3,275.4 978.3,273.4 1000.0,272.0C1021.7,270.6 1043.3,269.2 1060.0,268.5C1076.7,267.8 1089.2,267.7 1100.0,268.0C1110.8,268.3 1120.8,270.1 1125.0,270.5" fill="none" stroke="#0c0c0c" stroke-width="1.3" stroke-dasharray="5 3"/>
<path d="M835.0,399.0C835.5,394.2 837.2,379.7 838.0,370.0C838.8,360.3 838.7,348.5 839.5,341.0C840.3,333.5 841.2,330.1 842.6,325.0C844.0,319.9 845.3,314.5 848.0,310.5C850.7,306.5 851.9,303.3 859.0,301.0C866.1,298.7 878.7,297.9 890.5,296.7C902.3,295.4 911.8,294.9 930.0,293.5C948.2,292.1 978.3,290.2 1000.0,288.6C1021.7,287.0 1038.3,285.2 1060.0,283.9C1081.7,282.6 1111.7,280.6 1130.0,281.0C1148.3,281.4 1163.3,285.2 1170.0,286.0" fill="none" stroke="#050505" stroke-width="11"/>
<path d="M835.0,399.0C835.5,394.2 837.2,379.7 838.0,370.0C838.8,360.3 838.7,348.5 839.5,341.0C840.3,333.5 841.2,330.1 842.6,325.0C844.0,319.9 845.3,314.5 848.0,310.5C850.7,306.5 851.9,303.3 859.0,301.0C866.1,298.7 878.7,297.9 890.5,296.7C902.3,295.4 911.8,294.9 930.0,293.5C948.2,292.1 978.3,290.2 1000.0,288.6C1021.7,287.0 1038.3,285.2 1060.0,283.9C1081.7,282.6 1111.7,280.6 1130.0,281.0C1148.3,281.4 1163.3,285.2 1170.0,286.0" fill="none" stroke="#38393c" stroke-width="8"/>
<path d="M835.0,399.0C835.5,394.2 837.2,379.7 838.0,370.0C838.8,360.3 838.7,348.5 839.5,341.0C840.3,333.5 841.2,330.1 842.6,325.0C844.0,319.9 845.3,314.5 848.0,310.5C850.7,306.5 851.9,303.3 859.0,301.0C866.1,298.7 878.7,297.9 890.5,296.7C902.3,295.4 911.8,294.9 930.0,293.5C948.2,292.1 978.3,290.2 1000.0,288.6C1021.7,287.0 1038.3,285.2 1060.0,283.9C1081.7,282.6 1111.7,280.6 1130.0,281.0C1148.3,281.4 1163.3,285.2 1170.0,286.0" fill="none" stroke="#0c0c0c" stroke-width="1.3" stroke-dasharray="5 3"/>
<path d="M848.0,399.0C848.7,390.8 850.8,363.8 852.0,350.0C853.2,336.2 853.5,323.3 855.5,316.0C857.5,308.7 858.2,308.4 864.0,306.0C869.8,303.6 879.0,302.8 890.0,301.5C901.0,300.2 911.7,299.7 930.0,298.5C948.3,297.3 978.3,295.8 1000.0,294.5C1021.7,293.2 1036.7,292.1 1060.0,291.0C1083.3,289.9 1119.2,287.2 1140.0,288.0C1160.8,288.8 1177.5,294.7 1185.0,296.0" fill="none" stroke="#050505" stroke-width="2.5"/>
<path d="M829.7,406.4C829.9,414.3 830.2,442.9 830.7,454.0C831.2,465.1 831.0,467.2 832.5,472.7C834.0,478.2 834.6,482.9 840.0,487.0C845.4,491.1 851.7,495.3 865.0,497.5C878.3,499.7 894.2,500.8 920.0,500.0C945.8,499.2 986.7,495.8 1020.0,492.5C1053.3,489.2 1096.3,483.4 1120.0,480.0C1143.7,476.6 1155.0,473.3 1162.0,472.0" fill="none" stroke="#050505" stroke-width="2.6"/>
<path d="M1215.0,300.0C1205.8,300.0 1185.8,299.6 1160.0,300.0C1134.2,300.4 1090.2,301.7 1060.0,302.7C1029.8,303.7 1001.1,305.0 979.0,306.0C956.9,307.0 942.1,307.6 927.4,308.7C912.7,309.8 899.8,310.2 890.6,312.4C881.4,314.5 875.7,317.9 872.0,321.6C868.3,325.3 869.4,321.4 868.4,334.5C867.4,347.6 866.5,380.1 866.0,400.0C865.5,419.9 865.3,441.9 865.7,454.0C866.1,466.1 866.0,467.7 868.4,472.7C870.8,477.7 871.4,481.5 880.0,484.0C888.6,486.5 896.7,488.4 920.0,487.5C943.3,486.6 986.7,482.1 1020.0,478.8C1053.3,475.4 1094.7,470.8 1120.0,467.5C1145.3,464.2 1163.3,460.4 1172.0,459.0" fill="none" stroke="#050505" stroke-width="2.6"/>
<path d="M834,400 C843,400 857,406 866.5,416" fill="none" stroke="#050505" stroke-width="12.5"/>
<path d="M834,400 C843,400 857,406 866.5,416" fill="none" stroke="#242527" stroke-width="8"/>
<path d="M866.6,408.5 C930,402.5 1000,395.5 1020,392.5 C1080,386 1150,378 1212,369" fill="none" stroke="#060606" stroke-width="1.5" stroke-dasharray="5.5 3"/>
<path d="M838.0,930.0C838.0,891.7 837.7,753.0 838.0,700.0C838.3,647.0 839.2,637.0 840.0,612.0C840.8,587.0 840.4,562.8 842.5,550.0C844.6,537.2 843.8,539.2 852.5,535.0C861.2,530.8 867.1,528.8 895.0,525.0C922.9,521.2 975.0,516.7 1020.0,512.5C1065.0,508.3 1140.8,502.1 1165.0,500.0L1220,500 L1220,930Z" fill="#1c1d1f"/>
<path d="M838.0,930.0C838.0,891.7 837.7,753.0 838.0,700.0C838.3,647.0 839.2,637.0 840.0,612.0C840.8,587.0 840.4,562.8 842.5,550.0C844.6,537.2 843.8,539.2 852.5,535.0C861.2,530.8 867.1,528.8 895.0,525.0C922.9,521.2 975.0,516.7 1020.0,512.5C1065.0,508.3 1140.8,502.1 1165.0,500.0" fill="none" stroke="#050505" stroke-width="2.6"/>
<path d="M847.3,742.0C847.2,735.0 847.4,721.7 847.0,700.0C846.6,678.3 845.2,635.3 845.0,612.0C844.8,588.7 845.0,570.7 846.0,560.0C847.0,549.3 848.3,551.5 851.0,548.0C853.7,544.5 854.7,541.8 862.0,539.0C869.3,536.2 868.7,534.8 895.0,531.5C921.3,528.2 974.2,523.7 1020.0,519.5C1065.8,515.3 1145.0,508.7 1170.0,506.5" fill="none" stroke="#050505" stroke-width="10.5"/>
<path d="M847.3,742.0C847.2,735.0 847.4,721.7 847.0,700.0C846.6,678.3 845.2,635.3 845.0,612.0C844.8,588.7 845.0,570.7 846.0,560.0C847.0,549.3 848.3,551.5 851.0,548.0C853.7,544.5 854.7,541.8 862.0,539.0C869.3,536.2 868.7,534.8 895.0,531.5C921.3,528.2 974.2,523.7 1020.0,519.5C1065.8,515.3 1145.0,508.7 1170.0,506.5" fill="none" stroke="#38393c" stroke-width="7.5"/>
<path d="M847.3,742.0C847.2,735.0 847.4,721.7 847.0,700.0C846.6,678.3 845.2,635.3 845.0,612.0C844.8,588.7 845.0,570.7 846.0,560.0C847.0,549.3 848.3,551.5 851.0,548.0C853.7,544.5 854.7,541.8 862.0,539.0C869.3,536.2 868.7,534.8 895.0,531.5C921.3,528.2 974.2,523.7 1020.0,519.5C1065.8,515.3 1145.0,508.7 1170.0,506.5" fill="none" stroke="#0c0c0c" stroke-width="1.3" stroke-dasharray="5 3"/>
<path d="M857.8,746.5C857.8,724.1 856.7,643.1 857.5,612.0C858.3,580.9 859.6,570.8 862.5,560.0C865.4,549.2 865.4,550.8 875.0,547.5C884.6,544.2 895.8,542.8 920.0,540.0C944.2,537.2 982.5,534.2 1020.0,531.0C1057.5,527.8 1118.3,522.0 1145.0,521.0C1171.7,520.0 1171.7,520.2 1180.0,525.0C1188.3,529.8 1191.8,535.5 1195.0,550.0C1198.2,564.5 1198.3,601.7 1199.0,612.0" fill="none" stroke="#050505" stroke-width="2.5"/>
<path d="M895.0,912.0C894.6,893.3 893.5,850.0 892.5,800.0C891.5,750.0 889.2,649.5 888.8,612.0C888.3,574.5 888.5,583.7 890.0,575.0C891.5,566.3 892.5,563.5 897.5,560.0C902.5,556.5 899.6,556.5 920.0,553.8C940.4,551.0 982.5,547.1 1020.0,543.8C1057.5,540.4 1118.3,534.8 1145.0,533.8C1171.7,532.7 1172.5,534.0 1180.0,537.5C1187.5,541.0 1187.9,542.6 1190.0,555.0C1192.1,567.4 1192.9,579.5 1192.5,612.0C1192.1,644.5 1189.2,710.3 1187.5,750.0C1185.8,789.7 1183.8,829.6 1182.5,850.0C1181.2,870.4 1180.4,868.8 1180.0,872.5L1070,890Z" fill="#1a1b1d" stroke="#050505" stroke-width="2.5"/>
<path d="M780.5,712 C805,719 850,738 890,755.5" fill="none" stroke="#050505" stroke-width="2.5"/>
<path d="M781,721 C805,728 850,747 890,764.5" fill="none" stroke="#050505" stroke-width="1.1" stroke-dasharray="4 3"/>
<defs>
<linearGradient id="wallv" x1="0" x2="0" y1="236" y2="830" gradientUnits="userSpaceOnUse"><stop offset="0" stop-color="#fff" stop-opacity=".008"/><stop offset=".5" stop-color="#fff" stop-opacity=".012"/><stop offset=".62" stop-color="#fff" stop-opacity=".03"/><stop offset=".85" stop-color="#fff" stop-opacity=".075"/><stop offset="1" stop-color="#fff" stop-opacity=".09"/></linearGradient>
<linearGradient id="wallh0" x1="1062" x2="1185" y1="0" y2="0" gradientUnits="userSpaceOnUse"><stop offset="0" stop-color="#fff" stop-opacity=".062"/><stop offset=".35" stop-color="#fff" stop-opacity=".045"/><stop offset="1" stop-color="#fff" stop-opacity="0"/></linearGradient>
<linearGradient id="wallh" x1="1062" x2="1185" y1="0" y2="0" gradientUnits="userSpaceOnUse"><stop offset="0" stop-color="#fff" stop-opacity=".05"/><stop offset=".5" stop-color="#fff" stop-opacity=".02"/><stop offset="1" stop-color="#fff" stop-opacity="0"/></linearGradient>
<linearGradient id="wallhm" x1="0" x2="0" y1="480" y2="800" gradientUnits="userSpaceOnUse"><stop offset="0" stop-color="#000"/><stop offset="1" stop-color="#fff"/></linearGradient>
<mask id="mwh" maskUnits="userSpaceOnUse" x="1050" y="200" width="200" height="700"><rect x="1050" y="200" width="200" height="700" fill="url(#wallhm)"/></mask>
<linearGradient id="floorL" x1="756" x2="900" y1="0" y2="0" gradientUnits="userSpaceOnUse"><stop offset="0" stop-color="#fff" stop-opacity=".46"/><stop offset=".5" stop-color="#fff" stop-opacity=".28"/><stop offset="1" stop-color="#fff" stop-opacity=".2"/></linearGradient>
<linearGradient id="floorR" x1="900" x2="1200" y1="800" y2="900" gradientUnits="userSpaceOnUse"><stop offset="0" stop-color="#fff" stop-opacity=".19"/><stop offset="1" stop-color="#fff" stop-opacity=".29"/></linearGradient>
</defs>
<path d="M1062,244.5 L1100,243.5 L1114,247 L1225,300 L1225,505 L1168,505 L1181,526 L1190.5,548 L1193,612 L1188,750 L1183,850 L1180.5,857.5 L1062,799Z" fill="url(#wallv)"/>
<path d="M1062,244.5 L1100,243.5 L1114,247 L1225,300 L1225,505 L1168,505 L1181,526 L1190.5,548 L1193,612 L1188,750 L1183,850 L1180.5,857.5 L1062,799Z" fill="url(#wallh0)"/>
<g mask="url(#mwh)"><path d="M1062,244.5 L1100,243.5 L1114,247 L1225,300 L1225,505 L1168,505 L1181,526 L1190.5,548 L1193,612 L1188,750 L1183,850 L1180.5,857.5 L1062,799Z" fill="url(#wallh)"/></g>
<path d="M756,829 L893,826 L893,930 L760,930Z" fill="url(#floorL)"/>
<path d="M893,813 L1062,799 L1180.5,857.5 L1179.5,874 L1070,891 L893,915Z" fill="url(#floorR)"/>
<path d="M757,846.5 C810,862 910,864 1000,852.5 L1000,866 C910,878 810,876 759,861Z" fill="#fff" opacity=".07"/>
<path d="M759,861 C810,876 910,878 1000,866 L995,930 L770,930Z" fill="#1c1d1f" opacity=".96"/>
<path d="M1025.3,405 L1025.3,801" stroke="#050505" stroke-width="2.3"/>
<defs><clipPath id="cfloor"><rect x="740" y="822" width="160" height="110"/></clipPath></defs>
<g clip-path="url(#cfloor)">
<path d="M772.0,892.0C770.0,885.8 763.2,869.5 760.0,855.0C756.8,840.5 754.3,820.8 752.5,805.0C750.7,789.2 750.0,780.8 749.0,760.0C748.0,739.2 747.1,708.3 746.5,680.0C745.9,651.7 745.8,624.5 745.5,590.0C745.2,555.5 745.1,502.4 745.0,472.7C744.9,443.0 744.7,432.1 745.0,411.8C745.3,391.5 745.9,367.1 746.6,351.0C747.4,334.9 748.4,325.2 749.5,315.0C750.6,304.8 752.1,295.8 753.4,290.0C754.6,284.2 755.4,282.7 757.0,280.0C758.6,277.3 759.9,275.6 763.0,274.0C766.1,272.4 769.2,271.7 775.4,270.4C781.6,269.1 785.9,268.2 800.0,266.0C814.1,263.8 838.3,259.6 860.0,257.2C881.7,254.8 906.7,253.5 930.0,251.7C953.3,249.9 978.3,248.0 1000.0,246.5C1021.7,245.0 1043.3,243.4 1060.0,242.6C1076.7,241.8 1091.0,240.9 1100.0,241.5C1109.0,242.1 1111.7,245.2 1114.0,246.0" fill="none" stroke="#050505" stroke-width="4"/>
<path d="M795.0,900.0C793.5,896.7 788.3,890.0 786.0,880.0C783.7,870.0 782.0,860.0 781.0,840.0C780.0,820.0 780.8,800.0 780.0,760.0C779.2,720.0 777.5,647.9 776.5,600.0C775.5,552.1 774.3,509.1 774.0,472.7C773.7,436.3 774.2,405.2 774.7,381.4C775.2,357.6 776.1,342.7 777.0,330.0C777.9,317.3 778.2,311.2 780.0,305.0C781.8,298.8 784.2,295.8 788.0,292.5C791.8,289.2 796.0,287.1 803.0,285.0C810.0,282.9 820.5,281.6 830.0,280.0C839.5,278.4 843.3,277.1 860.0,275.5C876.7,273.9 906.7,272.1 930.0,270.5C953.3,268.9 978.3,267.2 1000.0,266.0C1021.7,264.8 1043.3,263.6 1060.0,263.0C1076.7,262.4 1089.7,262.2 1100.0,262.5C1110.3,262.8 1118.3,264.6 1122.0,265.0" fill="none" stroke="#050505" stroke-width="2.4"/>
<path d="M845.0,906.0C842.9,902.8 835.4,899.7 832.5,887.0C829.6,874.3 829.2,852.5 827.5,830.0C825.8,807.5 823.7,787.0 822.5,752.0C821.3,717.0 821.0,666.5 820.5,620.0C820.0,573.5 819.8,507.4 819.7,472.7C819.6,438.0 819.2,432.1 819.7,411.8C820.2,391.5 821.8,365.5 822.7,351.0C823.6,336.5 823.8,331.9 825.0,325.0C826.2,318.1 827.4,313.8 830.0,309.5C832.6,305.2 833.8,302.0 840.8,299.5C847.8,297.0 857.1,296.2 872.0,294.5C886.9,292.8 908.7,291.2 930.0,289.5C951.3,287.8 978.3,286.0 1000.0,284.4C1021.7,282.8 1038.3,281.3 1060.0,280.0C1081.7,278.7 1118.3,277.1 1130.0,276.5" fill="none" stroke="#050505" stroke-width="2.6"/>
<path d="M838.0,930.0C838.0,891.7 837.7,753.0 838.0,700.0C838.3,647.0 839.2,637.0 840.0,612.0C840.8,587.0 840.4,562.8 842.5,550.0C844.6,537.2 843.8,539.2 852.5,535.0C861.2,530.8 867.1,528.8 895.0,525.0C922.9,521.2 975.0,516.7 1020.0,512.5C1065.0,508.3 1140.8,502.1 1165.0,500.0" fill="none" stroke="#050505" stroke-width="2.6"/>
</g>
<path d="M895.0,912.0C894.6,893.3 893.5,850.0 892.5,800.0C891.5,750.0 889.2,649.5 888.8,612.0C888.3,574.5 888.5,583.7 890.0,575.0C891.5,566.3 892.5,563.5 897.5,560.0C902.5,556.5 899.6,556.5 920.0,553.8C940.4,551.0 982.5,547.1 1020.0,543.8C1057.5,540.4 1118.3,534.8 1145.0,533.8C1171.7,532.7 1172.5,534.0 1180.0,537.5C1187.5,541.0 1187.9,542.6 1190.0,555.0C1192.1,567.4 1192.9,579.5 1192.5,612.0C1192.1,644.5 1189.2,710.3 1187.5,750.0C1185.8,789.7 1183.8,829.6 1182.5,850.0C1181.2,870.4 1180.4,868.8 1180.0,872.5" fill="none" stroke="#050505" stroke-width="2.4"/>
<path d="M895,911 L1070,890 L1180,872.5" fill="none" stroke="#050505" stroke-width="2"/>
<rect x="897.3" y="583.0" width="45.4" height="12.4" rx="6.2" transform="rotate(-2 920.0 589.2)" fill="#000" fill-opacity=".2" stroke="#9a9c9e" stroke-width="1.8"/>
<rect x="898.5" y="633.8" width="45.4" height="12.4" rx="6.2" transform="rotate(-2 921.2 640.0)" fill="#000" fill-opacity=".2" stroke="#9a9c9e" stroke-width="1.8"/>
<rect x="901.0" y="685.0" width="45.4" height="12.4" rx="6.2" transform="rotate(-2 923.8 691.2)" fill="#000" fill-opacity=".2" stroke="#9a9c9e" stroke-width="1.8"/>
<rect x="903.5" y="735.5" width="45.4" height="12.4" rx="6.2" transform="rotate(-2 926.2 741.8)" fill="#000" fill-opacity=".2" stroke="#9a9c9e" stroke-width="1.8"/>
<rect x="904.8" y="787.0" width="45.4" height="12.4" rx="6.2" transform="rotate(-2 927.5 793.2)" fill="#000" fill-opacity=".2" stroke="#9a9c9e" stroke-width="1.8"/>
<rect x="905.3" y="836.3" width="45.4" height="12.4" rx="6.2" transform="rotate(-2 928.0 842.5)" fill="#000" fill-opacity=".2" stroke="#9a9c9e" stroke-width="1.8"/>
<rect x="905.5" y="881.3" width="45.4" height="12.4" rx="6.2" transform="rotate(-2 928.2 887.5)" fill="#000" fill-opacity=".2" stroke="#9a9c9e" stroke-width="1.8"/>
<rect x="977.8" y="577.0" width="45.4" height="12.4" rx="6.2" transform="rotate(-3 1000.5 583.2)" fill="#000" fill-opacity=".2" stroke="#9a9c9e" stroke-width="1.8"/>
<rect x="979.0" y="628.3" width="45.4" height="12.4" rx="6.2" transform="rotate(-3 1001.8 634.5)" fill="#000" fill-opacity=".2" stroke="#9a9c9e" stroke-width="1.8"/>
<rect x="981.0" y="678.3" width="45.4" height="12.4" rx="6.2" transform="rotate(-3 1003.8 684.5)" fill="#000" fill-opacity=".2" stroke="#9a9c9e" stroke-width="1.8"/>
<rect x="983.5" y="728.3" width="45.4" height="12.4" rx="6.2" transform="rotate(-3 1006.2 734.5)" fill="#000" fill-opacity=".2" stroke="#9a9c9e" stroke-width="1.8"/>
<rect x="984.8" y="780.0" width="45.4" height="12.4" rx="6.2" transform="rotate(-3 1007.5 786.2)" fill="#000" fill-opacity=".2" stroke="#9a9c9e" stroke-width="1.8"/>
<rect x="985.3" y="829.3" width="45.4" height="12.4" rx="6.2" transform="rotate(-3 1008.0 835.5)" fill="#000" fill-opacity=".2" stroke="#9a9c9e" stroke-width="1.8"/>
<rect x="985.3" y="872.5" width="45.4" height="12.4" rx="6.2" transform="rotate(-3 1008.0 878.8)" fill="#000" fill-opacity=".2" stroke="#9a9c9e" stroke-width="1.8"/>
<rect x="1059.0" y="569.5" width="45.4" height="12.4" rx="6.2" transform="rotate(-4.5 1081.8 575.8)" fill="#000" fill-opacity=".2" stroke="#9a9c9e" stroke-width="1.8"/>
<rect x="1059.8" y="621.3" width="45.4" height="12.4" rx="6.2" transform="rotate(-4.5 1082.5 627.5)" fill="#000" fill-opacity=".2" stroke="#9a9c9e" stroke-width="1.8"/>
<rect x="1062.3" y="669.5" width="45.4" height="12.4" rx="6.2" transform="rotate(-4.5 1085.0 675.8)" fill="#000" fill-opacity=".2" stroke="#9a9c9e" stroke-width="1.8"/>
<rect x="1062.3" y="719.5" width="45.4" height="12.4" rx="6.2" transform="rotate(-4.5 1085.0 725.8)" fill="#000" fill-opacity=".2" stroke="#9a9c9e" stroke-width="1.8"/>
<rect x="1061.0" y="770.8" width="45.4" height="12.4" rx="6.2" transform="rotate(-4.5 1083.8 777.0)" fill="#000" fill-opacity=".2" stroke="#9a9c9e" stroke-width="1.8"/>
<rect x="1058.0" y="820.8" width="45.4" height="12.4" rx="6.2" transform="rotate(-4.5 1080.8 827.0)" fill="#000" fill-opacity=".2" stroke="#9a9c9e" stroke-width="1.8"/>
<rect x="1056.0" y="865.0" width="45.4" height="12.4" rx="6.2" transform="rotate(-4.5 1078.8 871.2)" fill="#000" fill-opacity=".2" stroke="#9a9c9e" stroke-width="1.8"/>
<rect x="1134.0" y="561.8" width="45.4" height="12.4" rx="6.2" transform="rotate(-6 1156.8 568.0)" fill="#000" fill-opacity=".2" stroke="#9a9c9e" stroke-width="1.8"/>
<rect x="1135.5" y="613.0" width="45.4" height="12.4" rx="6.2" transform="rotate(-6 1158.2 619.2)" fill="#000" fill-opacity=".2" stroke="#9a9c9e" stroke-width="1.8"/>
<rect x="1135.5" y="661.3" width="45.4" height="12.4" rx="6.2" transform="rotate(-6 1158.2 667.5)" fill="#000" fill-opacity=".2" stroke="#9a9c9e" stroke-width="1.8"/>
<rect x="1134.8" y="710.8" width="45.4" height="12.4" rx="6.2" transform="rotate(-6 1157.5 717.0)" fill="#000" fill-opacity=".2" stroke="#9a9c9e" stroke-width="1.8"/>
<rect x="1133.5" y="762.5" width="45.4" height="12.4" rx="6.2" transform="rotate(-6 1156.2 768.8)" fill="#000" fill-opacity=".2" stroke="#9a9c9e" stroke-width="1.8"/>
<rect x="1131.0" y="812.5" width="45.4" height="12.4" rx="6.2" transform="rotate(-6 1153.8 818.8)" fill="#000" fill-opacity=".2" stroke="#9a9c9e" stroke-width="1.8"/>
<rect x="1128.5" y="855.8" width="45.4" height="12.4" rx="6.2" transform="rotate(-6 1151.2 862.0)" fill="#000" fill-opacity=".2" stroke="#9a9c9e" stroke-width="1.8"/>
</g>
<path d="M652.7,470.0C652.8,456.7 652.9,451.7 653.2,440.0C653.4,428.4 653.6,415.1 654.2,400.1C654.8,385.1 655.8,365.1 656.7,350.1C657.6,335.1 658.9,319.3 659.7,310.2C660.5,301.0 660.6,300.9 661.7,295.3C662.7,289.7 663.5,282.1 665.9,276.7C668.2,271.3 671.8,266.3 675.5,263.0C679.2,259.6 684.3,258.4 688.1,256.8C691.8,255.1 693.0,254.8 698.0,253.2C703.0,251.7 711.2,249.3 718.1,247.5C725.1,245.8 727.6,244.9 739.6,242.5C751.7,240.0 775.2,235.3 790.3,232.7C805.4,230.0 815.2,228.6 830.2,226.7C845.2,224.8 862.8,222.8 880.2,221.2C897.5,219.6 919.1,217.9 934.1,217.2C949.1,216.5 961.1,217.0 970.0,216.9C979.0,216.8 977.8,215.6 987.8,216.9C997.7,218.2 1015.0,221.7 1029.7,224.7C1044.3,227.6 1064.0,232.0 1075.6,234.7C1087.3,237.3 1094.3,239.2 1099.5,240.6C1104.8,242.1 1105.1,242.2 1107.1,243.4C1109.1,244.7 1110.2,246.1 1111.6,248.0C1113.0,249.9 1114.2,252.1 1115.5,254.8C1116.8,257.4 1118.1,261.0 1119.5,263.8C1120.9,266.5 1122.1,269.3 1123.7,271.1C1125.4,272.9 1127.3,273.6 1129.3,274.5C1131.3,275.5 1132.2,275.8 1135.6,276.6C1139.0,277.5 1144.9,278.5 1149.6,279.7C1154.3,280.8 1159.0,281.8 1163.9,283.6C1168.8,285.4 1174.9,288.2 1179.2,290.5C1183.5,292.8 1187.0,295.3 1189.9,297.3C1192.8,299.3 1194.6,300.3 1196.5,302.5C1198.4,304.7 1199.7,306.5 1201.5,310.5C1203.3,314.5 1205.7,320.7 1207.2,326.5C1208.8,332.3 1210.0,339.1 1210.8,345.5C1211.6,351.9 1212.0,356.6 1212.0,364.6C1212.0,372.6 1211.3,385.9 1210.8,393.5C1210.3,401.1 1209.4,405.2 1208.8,410.0C1208.2,414.8 1208.2,417.7 1207.2,422.0C1206.2,426.3 1204.8,431.4 1202.5,436.0C1200.2,440.6 1197.0,445.7 1193.5,449.5C1190.0,453.3 1185.4,456.1 1181.5,458.8C1177.6,461.5 1173.0,463.6 1170.0,465.5C1167.0,467.4 1165.0,468.6 1163.5,470.0C1162.0,471.4 1161.7,472.3 1161.3,474.0C1160.9,475.7 1161.0,476.7 1161.0,480.0C1161.0,483.3 1160.9,490.9 1161.0,494.0C1161.1,497.1 1161.0,497.2 1161.5,498.5C1162.0,499.8 1161.5,499.2 1164.0,501.5C1166.5,503.8 1172.5,508.2 1176.8,512.5C1181.1,516.8 1186.5,522.4 1190.0,527.0C1193.5,531.6 1195.7,535.3 1197.6,540.0C1199.5,544.7 1200.4,549.2 1201.4,555.0C1202.4,560.8 1203.0,567.5 1203.5,575.0C1204.0,582.5 1204.6,589.2 1204.5,600.0C1204.4,610.8 1203.7,627.5 1203.0,640.0C1202.3,652.5 1201.3,665.0 1200.5,675.0C1199.7,685.0 1199.3,691.0 1198.4,700.0C1197.5,709.0 1196.0,713.0 1195.2,729.0C1194.4,745.0 1194.1,779.5 1193.5,796.0C1192.9,812.5 1191.8,820.0 1191.8,828.0C1191.8,836.0 1193.1,838.7 1193.3,844.0C1193.5,849.3 1193.5,855.6 1192.8,860.0C1192.1,864.4 1190.9,867.8 1189.0,870.5C1187.1,873.2 1186.1,874.3 1181.5,876.0C1176.9,877.7 1170.1,879.0 1161.5,880.6C1152.9,882.2 1141.8,883.5 1130.0,885.4C1118.2,887.3 1115.7,887.8 1090.7,891.8C1065.7,895.8 1012.4,905.6 979.8,909.3C947.2,913.1 911.6,914.7 895.0,914.3C878.4,913.9 891.0,908.3 880.2,907.1C869.4,905.9 842.6,908.3 830.2,907.1C817.7,905.8 814.5,901.2 805.3,899.3C796.2,897.5 783.7,898.0 775.4,895.9C767.2,893.7 761.6,889.8 755.8,886.5C750.1,883.2 745.7,879.8 741.1,876.2C736.4,872.5 732.3,868.5 728.1,864.7C724.0,861.0 719.5,857.3 716.2,853.8C712.9,850.4 710.8,847.3 708.4,844.0C705.9,840.7 703.6,836.8 701.4,834.0C699.1,831.1 697.2,828.6 695.1,826.7C693.1,824.9 691.3,827.5 689.0,823.0C686.8,818.5 685.4,820.2 681.7,799.7C677.9,779.2 671.3,733.1 666.7,699.8C662.0,666.5 656.0,629.8 653.7,599.9C651.4,569.9 652.9,541.6 652.7,520.0C652.5,498.3 652.6,483.3 652.7,470.0Z" fill="none" stroke="#050505" stroke-width="4" stroke-linejoin="round"/>
<path d="M920,916 L922,922 Q923,925 927,925 L971,925 Q975,925 976,921 L978,912Z" fill="#151515" stroke="#050505" stroke-width="2"/>
<path d="M640.0,456.0C637.0,456.5 626.5,456.4 621.7,459.0C616.9,461.6 614.0,466.1 611.0,471.7C608.0,477.3 606.0,484.2 604.0,492.5C602.0,500.8 600.2,512.1 598.8,521.7C597.2,531.3 595.8,538.6 595.0,550.0C594.2,561.4 593.9,576.7 593.8,590.0C593.6,603.3 593.8,617.5 594.0,630.0C594.2,642.5 594.4,655.0 595.0,665.0C595.6,675.0 596.7,679.2 597.5,690.0C598.3,700.8 599.2,720.8 600.0,730.0C600.8,739.2 600.8,739.6 602.0,745.0C603.2,750.4 605.3,757.0 607.5,762.5C609.7,768.0 612.1,773.0 615.0,778.0C617.9,783.0 620.8,788.0 625.0,792.5C629.2,797.0 635.0,801.2 640.0,805.0C645.0,808.8 650.0,812.5 655.0,815.0C660.0,817.5 664.6,818.5 670.0,820.0C675.4,821.5 683.2,822.1 687.5,823.8C691.8,825.4 694.6,829.0 696.0,830.0L694.0,822.0C693.7,816.7 692.8,807.0 692.0,790.0C691.2,773.0 690.0,745.0 689.0,720.0C688.0,695.0 686.8,666.7 686.0,640.0C685.2,613.3 684.8,577.6 684.0,560.0C683.2,542.4 681.5,538.8 681.0,534.5L664,500 L660,470 Z" fill="#1d1d1e"/>
<g clip-path="url(#cside)"><path d="M597.0,521.0L615.0,523.0L638.0,525.5L660.0,529.5L681.0,534.5L684.0,560.0L686.0,640.0L689.0,720.0L692.0,790.0L696.0,832.0L660.0,818.0L630.0,798.0L610.0,768.0L600.0,730.0L595.0,665.0L593.8,590.0L595.0,550.0Z" fill="url(#mesh)"/><path d="M597.0,521.0L615.0,523.0L638.0,525.5L660.0,529.5L681.0,534.5L684.0,560.0L686.0,640.0L689.0,720.0L692.0,790.0L696.0,832.0L660.0,818.0L630.0,798.0L610.0,768.0L600.0,730.0L595.0,665.0L593.8,590.0L595.0,550.0Z" fill="url(#meshsh)"/></g>
<path d="M640.0,456.0C637.0,456.5 626.5,456.4 621.7,459.0C616.9,461.6 614.0,466.1 611.0,471.7C608.0,477.3 606.0,484.2 604.0,492.5C602.0,500.8 600.2,512.1 598.8,521.7C597.2,531.3 595.8,538.6 595.0,550.0C594.2,561.4 593.9,576.7 593.8,590.0C593.6,603.3 593.8,617.5 594.0,630.0C594.2,642.5 594.4,655.0 595.0,665.0C595.6,675.0 596.7,679.2 597.5,690.0C598.3,700.8 599.2,720.8 600.0,730.0C600.8,739.2 600.8,739.6 602.0,745.0C603.2,750.4 605.3,757.0 607.5,762.5C609.7,768.0 612.1,773.0 615.0,778.0C617.9,783.0 620.8,788.0 625.0,792.5C629.2,797.0 635.0,801.2 640.0,805.0C645.0,808.8 650.0,812.5 655.0,815.0C660.0,817.5 664.6,818.5 670.0,820.0C675.4,821.5 683.2,822.1 687.5,823.8C691.8,825.4 694.6,829.0 696.0,830.0" fill="none" stroke="#050505" stroke-width="3" stroke-linecap="round"/>
<path d="M694.0,822.0C693.7,816.7 692.8,807.0 692.0,790.0C691.2,773.0 690.0,745.0 689.0,720.0C688.0,695.0 686.8,666.7 686.0,640.0C685.2,613.3 684.8,577.6 684.0,560.0C683.2,542.4 681.5,538.8 681.0,534.5" fill="none" stroke="#050505" stroke-width="2.5"/>
<path d="M604.5,486.0L623.0,489.0L623.0,497.0L603.0,493.0Z" fill="#2a2a2b"/>
<path d="M640.0,463.0L727.0,476.4L727.0,511.0L640.0,495.5Z" fill="#2a2a2b" stroke="#050505" stroke-width="2" stroke-linejoin="round"/>
<path d="M624,484 C620,500 603,508 598.2,521.8 L615,523 L638,525.5 L660,529.5 L681,534.8 C676,515 662,500 658,484 Z" fill="url(#bot)"/>
<path d="M631,486 C629,500 618,510 613,522.5 L622,523.8 C626,512 634,500 635,486Z" fill="#d2d2d2" opacity=".55"/>
<path d="M648,486 C650,500 660,512 667,531 L674,533 C668,514 655,500 653,486Z" fill="#c8c8c8" opacity=".5"/>
<rect x="624.8" y="475" width="33.2" height="10" fill="#9c9c9c"/>
<rect x="621.8" y="472" width="39.4" height="4.5" rx="1.5" fill="#7a7a7a"/>
<rect x="622.4" y="452.4" width="38.2" height="20.6" rx="2.5" fill="url(#cap)"/>
<path d="M793.0,485.8L818.6,490.0L818.6,529.3L792.5,523.5Z" fill="#2a2a2b" stroke="#050505" stroke-width="2" stroke-linejoin="round"/>
<path d="M598.8,723.8L760.0,769.2L801.0,780.0L799.0,814.0L760.0,804.5L602.5,752.5Z" fill="#2a2a2b" stroke="#050505" stroke-width="2" stroke-linejoin="round"/>
<path d="M867.0,795.3L891.4,798.0L891.4,839.0L865.0,832.2Z" fill="#2a2a2b" stroke="#050505" stroke-width="2" stroke-linejoin="round"/>
<g transform="translate(725.6,473) rotate(4) scale(1.0)"><path d="M16,6 C26,0 38,4 46,14 L46,34 C38,44 26,48 16,42Z" fill="#161616" stroke="#050505" stroke-width="2.4" stroke-linejoin="round"/><path d="M19,10 C30,14 40,20 44,25 C40,30 30,36 19,40 C22,30 22,20 19,10Z" fill="#1b1b1b" stroke="#050505" stroke-width="2"/><rect x="0" y="0" width="17.5" height="46" rx="5" fill="#161616" stroke="#050505" stroke-width="2.6"/><rect x="5.5" y="6" width="7" height="34" rx="1.5" fill="#343434" stroke="#050505" stroke-width="1.6"/><path d="M44,12 C46,4 52,2 58,3 L66,4 Q70,5 70,10 L69,44 Q68,50 62,50 L54,49 C48,48 45,42 44,36 L48,25Z" fill="#161616" stroke="#050505" stroke-width="2.6" stroke-linejoin="round"/><rect x="53.5" y="9" width="9" height="36" rx="1.5" fill="#343434" stroke="#050505" stroke-width="1.6"/></g>
<g transform="translate(803,777) rotate(8) scale(1.0)"><path d="M16,6 C26,0 38,4 46,14 L46,34 C38,44 26,48 16,42Z" fill="#161616" stroke="#050505" stroke-width="2.4" stroke-linejoin="round"/><path d="M19,10 C30,14 40,20 44,25 C40,30 30,36 19,40 C22,30 22,20 19,10Z" fill="#1b1b1b" stroke="#050505" stroke-width="2"/><rect x="0" y="0" width="17.5" height="46" rx="5" fill="#161616" stroke="#050505" stroke-width="2.6"/><rect x="5.5" y="6" width="7" height="34" rx="1.5" fill="#343434" stroke="#050505" stroke-width="1.6"/><path d="M44,12 C46,4 52,2 58,3 L66,4 Q70,5 70,10 L69,44 Q68,50 62,50 L54,49 C48,48 45,42 44,36 L48,25Z" fill="#161616" stroke="#050505" stroke-width="2.6" stroke-linejoin="round"/><rect x="53.5" y="9" width="9" height="36" rx="1.5" fill="#343434" stroke="#050505" stroke-width="1.6"/></g>
<path d="M1187.0,762.0L1196.0,757.0L1208.5,752.0L1209.5,764.0L1208.6,786.6L1205.4,792.0L1187.0,794.0Z" fill="#2a2a2b" stroke="#050505" stroke-width="2" stroke-linejoin="round"/>
<path d="M1194.0,735.0L1199.0,731.0L1206.5,732.0L1210.0,745.0L1209.5,754.0L1197.0,758.0L1192.0,752.0Z" fill="#1a1a1a" stroke="#050505" stroke-width="2" stroke-linejoin="round"/>
<g transform="translate(700.9,305.8) rotate(2.5) scale(1.0,1.0)"><path d="M-1,0 L-4,1 L-7.4,15 L-6.6,19.5 L6.6,19.5 L7.4,15 L4,1 L1,0Z" fill="#8d8d8f" stroke="#0d0d0d" stroke-width="1.3" stroke-linejoin="round"/><path d="M-2.2,1.5 L-3.4,18" stroke="#c9c9cb" stroke-width="1.5"/><path d="M0,0.5 L0,19" stroke="#0d0d0d" stroke-width="1.2"/><path d="M-5.4,20 L5.4,20 L5.6,32 L5.65,57 Q5.85,67 0,67 Q-5.85,67 -5.65,57 L-5.6,32Z" fill="#909092" stroke="#0d0d0d" stroke-width="1.3" stroke-linejoin="round"/><path d="M-5.6,32 L5.6,32" stroke="#0d0d0d" stroke-width="1.2"/><path d="M-3,20.5 L-2.4,28 Q0,30.5 2.4,28 L3,20.5Z" fill="#2b2b2d" stroke="#0d0d0d" stroke-width="1"/><ellipse cx="0" cy="19.6" rx="5.2" ry="2.6" fill="none" stroke="#0d0d0d" stroke-width="1.3"/><path d="M0,17 L0,23" stroke="#9a9a9c" stroke-width="1.6"/></g>
<g transform="translate(843.3,341) rotate(8) scale(1.0,1.0)"><path d="M-1,0 L-4,1 L-7.4,15 L-6.6,19.5 L6.6,19.5 L7.4,15 L4,1 L1,0Z" fill="#8d8d8f" stroke="#0d0d0d" stroke-width="1.3" stroke-linejoin="round"/><path d="M-2.2,1.5 L-3.4,18" stroke="#c9c9cb" stroke-width="1.5"/><path d="M0,0.5 L0,19" stroke="#0d0d0d" stroke-width="1.2"/><path d="M-5.4,20 L5.4,20 L5.6,32 L5.65,55 Q5.85,65 0,65 Q-5.85,65 -5.65,55 L-5.6,32Z" fill="#909092" stroke="#0d0d0d" stroke-width="1.3" stroke-linejoin="round"/><path d="M-5.6,32 L5.6,32" stroke="#0d0d0d" stroke-width="1.2"/><path d="M-3,20.5 L-2.4,28 Q0,30.5 2.4,28 L3,20.5Z" fill="#2b2b2d" stroke="#0d0d0d" stroke-width="1"/><ellipse cx="0" cy="19.6" rx="5.2" ry="2.6" fill="none" stroke="#0d0d0d" stroke-width="1.3"/><path d="M0,17 L0,23" stroke="#9a9a9c" stroke-width="1.6"/></g>
<g transform="translate(787.7,637.7) rotate(2) scale(1.0,1.0)"><path d="M-1,0 L-4,1 L-7.4,15 L-6.6,19.5 L6.6,19.5 L7.4,15 L4,1 L1,0Z" fill="#8d8d8f" stroke="#0d0d0d" stroke-width="1.3" stroke-linejoin="round"/><path d="M-2.2,1.5 L-3.4,18" stroke="#c9c9cb" stroke-width="1.5"/><path d="M0,0.5 L0,19" stroke="#0d0d0d" stroke-width="1.2"/><path d="M-5.4,20 L5.4,20 L5.6,32 L5.65,57 Q5.85,67 0,67 Q-5.85,67 -5.65,57 L-5.6,32Z" fill="#909092" stroke="#0d0d0d" stroke-width="1.3" stroke-linejoin="round"/><path d="M-5.6,32 L5.6,32" stroke="#0d0d0d" stroke-width="1.2"/><path d="M-3,20.5 L-2.4,28 Q0,30.5 2.4,28 L3,20.5Z" fill="#2b2b2d" stroke="#0d0d0d" stroke-width="1"/><ellipse cx="0" cy="19.6" rx="5.2" ry="2.6" fill="none" stroke="#0d0d0d" stroke-width="1.3"/><path d="M0,17 L0,23" stroke="#9a9a9c" stroke-width="1.6"/></g>
<g transform="translate(847,667.3) rotate(0.5) scale(1.0,1.0)"><path d="M-1,0 L-4,1 L-7.4,15 L-6.6,19.5 L6.6,19.5 L7.4,15 L4,1 L1,0Z" fill="#8d8d8f" stroke="#0d0d0d" stroke-width="1.3" stroke-linejoin="round"/><path d="M-2.2,1.5 L-3.4,18" stroke="#c9c9cb" stroke-width="1.5"/><path d="M0,0.5 L0,19" stroke="#0d0d0d" stroke-width="1.2"/><path d="M-5.4,20 L5.4,20 L5.6,32 L5.65,56.5 Q5.85,66.5 0,66.5 Q-5.85,66.5 -5.65,56.5 L-5.6,32Z" fill="#909092" stroke="#0d0d0d" stroke-width="1.3" stroke-linejoin="round"/><path d="M-5.6,32 L5.6,32" stroke="#0d0d0d" stroke-width="1.2"/><path d="M-3,20.5 L-2.4,28 Q0,30.5 2.4,28 L3,20.5Z" fill="#2b2b2d" stroke="#0d0d0d" stroke-width="1"/><ellipse cx="0" cy="19.6" rx="5.2" ry="2.6" fill="none" stroke="#0d0d0d" stroke-width="1.3"/><path d="M0,17 L0,23" stroke="#9a9a9c" stroke-width="1.6"/></g>
<path d="M958.6,222.4 L986.5,216.3 Q991.5,215.6 993,218.7 Q993,221.5 989.5,222.8 L962.3,227.2Z" fill="#a6a6a8" stroke="#0a0a0a" stroke-width="1.3" stroke-linejoin="round"/>
<path d="M929.5,231.5 L937,224.5 L957,222.3 L960.5,228 L947,232.8Z" fill="#1b1b1d" stroke="#0a0a0a" stroke-width="1.2" stroke-linejoin="round"/>
<path d="M931.5,231.6 L938,229.3 L946,229.6 L947,232.3Z" fill="#c4c4c6"/>
<path d="M936.5,226.6 L942,224.6 L945,225.6 L940,227.5Z" fill="#b8b8ba"/>
<ellipse cx="953.5" cy="226.6" rx="5" ry="2.3" transform="rotate(-9 953.5 226.6)" fill="#2a2a2c" stroke="#0a0a0a" stroke-width="1.1"/>
<path d="M958,223.2 L960.8,227.8" stroke="#c8c8ca" stroke-width="1.6"/>
<path d="M1252.5,840.0C1251.9,832.5 1253.8,823.3 1256.2,815.0C1258.8,806.7 1261.9,797.9 1267.5,790.0C1273.1,782.1 1280.8,772.9 1290.0,767.5C1299.2,762.1 1306.7,758.8 1322.5,757.5C1338.3,756.2 1362.1,758.3 1385.0,760.0C1407.9,761.7 1439.2,764.6 1460.0,767.5C1480.8,770.4 1497.5,772.9 1510.0,777.5C1522.5,782.1 1529.0,788.8 1535.0,795.0C1541.0,801.2 1544.0,808.3 1546.2,815.0C1548.5,821.7 1549.0,826.7 1548.8,835.0C1548.5,843.3 1546.5,856.7 1545.0,865.0C1543.5,873.3 1542.9,881.5 1540.0,885.0C1537.1,888.5 1540.8,887.1 1527.5,886.2C1514.2,885.4 1487.9,882.3 1460.0,880.0C1432.1,877.7 1389.2,875.0 1360.0,872.5C1330.8,870.0 1301.7,867.1 1285.0,865.0C1268.3,862.9 1265.4,864.2 1260.0,860.0C1254.6,855.8 1253.1,847.5 1252.5,840.0Z" fill="#26282b" stroke="#050505" stroke-width="3.4" stroke-linejoin="round"/>
<path d="M1258.5,846.0C1258.8,841.2 1257.8,825.8 1260.0,817.0C1262.2,808.2 1266.2,800.3 1271.5,793.0C1276.8,785.7 1283.4,777.9 1292.0,773.0C1300.6,768.1 1307.5,764.7 1323.0,763.5C1338.5,762.3 1362.3,764.3 1385.0,766.0C1407.7,767.7 1438.7,770.7 1459.0,773.5C1479.3,776.3 1495.2,778.8 1507.0,783.0C1518.8,787.2 1524.4,793.3 1530.0,799.0C1535.6,804.7 1538.3,811.5 1540.5,817.0C1542.7,822.5 1542.6,829.5 1543.0,832.0" fill="none" stroke="#3a3c40" stroke-width="5"/>
<path d="M1258.5,846.0C1258.8,841.2 1257.8,825.8 1260.0,817.0C1262.2,808.2 1266.2,800.3 1271.5,793.0C1276.8,785.7 1283.4,777.9 1292.0,773.0C1300.6,768.1 1307.5,764.7 1323.0,763.5C1338.5,762.3 1362.3,764.3 1385.0,766.0C1407.7,767.7 1438.7,770.7 1459.0,773.5C1479.3,776.3 1495.2,778.8 1507.0,783.0C1518.8,787.2 1524.4,793.3 1530.0,799.0C1535.6,804.7 1538.3,811.5 1540.5,817.0C1542.7,822.5 1542.6,829.5 1543.0,832.0" fill="none" stroke="#0b0b0c" stroke-width="1.3" stroke-dasharray="5 3"/>
<g transform="translate(1542.3,825.2) rotate(8) scale(1.0,1.0)"><path d="M-1,0 L-4,1 L-7.4,15 L-6.6,19.5 L6.6,19.5 L7.4,15 L4,1 L1,0Z" fill="#8d8d8f" stroke="#0d0d0d" stroke-width="1.3" stroke-linejoin="round"/><path d="M-2.2,1.5 L-3.4,18" stroke="#c9c9cb" stroke-width="1.5"/><path d="M0,0.5 L0,19" stroke="#0d0d0d" stroke-width="1.2"/><path d="M-5.4,20 L5.4,20 L5.6,32 L5.65,50.5 Q5.85,60.5 0,60.5 Q-5.85,60.5 -5.65,50.5 L-5.6,32Z" fill="#909092" stroke="#0d0d0d" stroke-width="1.3" stroke-linejoin="round"/><path d="M-5.6,32 L5.6,32" stroke="#0d0d0d" stroke-width="1.2"/><path d="M-3,20.5 L-2.4,28 Q0,30.5 2.4,28 L3,20.5Z" fill="#2b2b2d" stroke="#0d0d0d" stroke-width="1"/><ellipse cx="0" cy="19.6" rx="5.2" ry="2.6" fill="none" stroke="#0d0d0d" stroke-width="1.3"/><path d="M0,17 L0,23" stroke="#9a9a9c" stroke-width="1.6"/></g>
<path d="M1343.0,938.0L1360.0,941.0L1373.0,952.5L1365.0,975.0L1345.0,971.0L1338.0,955.0Z" fill="#232426" stroke="#050505" stroke-width="3" stroke-linejoin="round"/>
<path d="M1180.0,966.0C1179.2,960.6 1181.7,956.0 1185.0,947.5C1188.3,939.0 1195.0,923.8 1200.0,915.0C1205.0,906.2 1209.2,899.5 1215.0,895.0C1220.8,890.5 1223.3,888.8 1235.0,888.0C1246.7,887.2 1268.3,888.6 1285.0,890.0C1301.7,891.4 1324.2,893.8 1335.0,896.2C1345.8,898.8 1346.2,901.0 1350.0,905.0C1353.8,909.0 1356.7,914.2 1357.5,920.0C1358.3,925.8 1356.8,932.8 1355.0,940.0C1353.2,947.2 1350.3,955.5 1347.0,963.0C1343.7,970.5 1342.8,979.7 1335.0,985.0C1327.2,990.3 1316.7,994.6 1300.0,995.0C1283.3,995.4 1253.3,990.0 1235.0,987.5C1216.7,985.0 1199.2,983.6 1190.0,980.0C1180.8,976.4 1180.8,971.4 1180.0,966.0Z" fill="#1f2022" stroke="#050505" stroke-width="3" stroke-linejoin="round"/>
<path d="M1184.5,955.0C1184.0,951.8 1185.2,949.8 1188.0,943.0C1190.8,936.2 1196.7,921.7 1201.0,914.0C1205.3,906.3 1208.3,900.9 1214.0,897.0C1219.7,893.1 1223.2,891.2 1235.0,890.5C1246.8,889.8 1268.8,891.2 1285.0,892.5C1301.2,893.8 1322.5,895.8 1332.2,898.3C1341.9,900.8 1340.7,904.1 1343.0,907.4C1345.3,910.7 1345.6,914.4 1346.0,918.0C1346.4,921.6 1346.4,923.5 1345.2,929.0C1344.0,934.5 1341.8,944.4 1338.7,950.7C1335.6,957.0 1331.5,963.1 1326.8,967.0C1322.1,970.9 1318.7,972.9 1310.6,974.0C1302.5,975.1 1290.0,973.9 1278.2,973.4C1266.4,972.9 1250.8,971.9 1240.0,971.0C1229.2,970.1 1221.5,969.5 1213.3,968.0C1205.1,966.5 1195.8,964.2 1191.0,962.0C1186.2,959.8 1185.0,958.2 1184.5,955.0Z" fill="#26282b" stroke="#050505" stroke-width="2"/>
<path d="M1186.0,972.0C1194.2,973.5 1216.3,978.2 1235.0,981.0C1253.7,983.8 1283.5,988.0 1298.0,988.5C1312.5,989.0 1318.0,984.8 1322.0,984.0" fill="none" stroke="#3a3c40" stroke-width="4"/>
<path d="M1186.0,972.0C1194.2,973.5 1216.3,978.2 1235.0,981.0C1253.7,983.8 1283.5,988.0 1298.0,988.5C1312.5,989.0 1318.0,984.8 1322.0,984.0" fill="none" stroke="#0b0b0c" stroke-width="1.2" stroke-dasharray="5 3"/>
<path d="M1350.5,910.0C1350.7,912.5 1351.8,919.7 1351.5,925.0C1351.2,930.3 1349.4,939.2 1349.0,942.0" fill="none" stroke="#0b0b0c" stroke-width="1.2" stroke-dasharray="4 3"/>
<g transform="translate(1339,962) rotate(51.5) scale(0.5848,0.86)"><path d="M-1,0 L-4,1 L-7.4,15 L-6.6,19.5 L6.6,19.5 L7.4,15 L4,1 L1,0Z" fill="#8d8d8f" stroke="#0d0d0d" stroke-width="1.3" stroke-linejoin="round"/><path d="M-2.2,1.5 L-3.4,18" stroke="#c9c9cb" stroke-width="1.5"/><path d="M0,0.5 L0,19" stroke="#0d0d0d" stroke-width="1.2"/><path d="M-5.4,20 L5.4,20 L5.6,32 L5.65,53 Q5.85,63 0,63 Q-5.85,63 -5.65,53 L-5.6,32Z" fill="#909092" stroke="#0d0d0d" stroke-width="1.3" stroke-linejoin="round"/><path d="M-5.6,32 L5.6,32" stroke="#0d0d0d" stroke-width="1.2"/><path d="M-3,20.5 L-2.4,28 Q0,30.5 2.4,28 L3,20.5Z" fill="#2b2b2d" stroke="#0d0d0d" stroke-width="1"/><ellipse cx="0" cy="19.6" rx="5.2" ry="2.6" fill="none" stroke="#0d0d0d" stroke-width="1.3"/><path d="M0,17 L0,23" stroke="#9a9a9c" stroke-width="1.6"/></g>
<defs><clipPath id="cp1"><path d="M1252.5,840.0C1251.9,832.5 1253.8,823.3 1256.2,815.0C1258.8,806.7 1261.9,797.9 1267.5,790.0C1273.1,782.1 1280.8,772.9 1290.0,767.5C1299.2,762.1 1306.7,758.8 1322.5,757.5C1338.3,756.2 1362.1,758.3 1385.0,760.0C1407.9,761.7 1439.2,764.6 1460.0,767.5C1480.8,770.4 1497.5,772.9 1510.0,777.5C1522.5,782.1 1529.0,788.8 1535.0,795.0C1541.0,801.2 1544.0,808.3 1546.2,815.0C1548.5,821.7 1549.0,826.7 1548.8,835.0C1548.5,843.3 1546.5,856.7 1545.0,865.0C1543.5,873.3 1542.9,881.5 1540.0,885.0C1537.1,888.5 1540.8,887.1 1527.5,886.2C1514.2,885.4 1487.9,882.3 1460.0,880.0C1432.1,877.7 1389.2,875.0 1360.0,872.5C1330.8,870.0 1301.7,867.1 1285.0,865.0C1268.3,862.9 1265.4,864.2 1260.0,860.0C1254.6,855.8 1253.1,847.5 1252.5,840.0Z"/></clipPath><clipPath id="cp2"><path d="M1180.0,966.0C1179.2,960.6 1181.7,956.0 1185.0,947.5C1188.3,939.0 1195.0,923.8 1200.0,915.0C1205.0,906.2 1209.2,899.5 1215.0,895.0C1220.8,890.5 1223.3,888.8 1235.0,888.0C1246.7,887.2 1268.3,888.6 1285.0,890.0C1301.7,891.4 1324.2,893.8 1335.0,896.2C1345.8,898.8 1346.2,901.0 1350.0,905.0C1353.8,909.0 1356.7,914.2 1357.5,920.0C1358.3,925.8 1356.8,932.8 1355.0,940.0C1353.2,947.2 1350.3,955.5 1347.0,963.0C1343.7,970.5 1342.8,979.7 1335.0,985.0C1327.2,990.3 1316.7,994.6 1300.0,995.0C1283.3,995.4 1253.3,990.0 1235.0,987.5C1216.7,985.0 1199.2,983.6 1190.0,980.0C1180.8,976.4 1180.8,971.4 1180.0,966.0Z"/></clipPath></defs>
<g><path d="M1024.7,94.3 L875.6,94.3 L875.6,164" fill="none" stroke="#000" stroke-width="4.3" stroke-linejoin="miter"/></g>
<circle cx="875.6" cy="173" r="7.9" fill="none" stroke="#fff" stroke-width="3.9"/>
<g><path d="M433,253.8 L759.9,253.8 L759.9,443" fill="none" stroke="#000" stroke-width="4.3" stroke-linejoin="miter"/></g>
<g clip-path="url(#cbag)"><path d="M433,253.8 L759.9,253.8 L759.9,443" fill="none" stroke="#fff" stroke-width="4.3" stroke-linejoin="miter"/></g>
<circle cx="759.6" cy="453.6" r="9" fill="none" stroke="#fff" stroke-width="4"/>
<g><path d="M1009,308.8 L1391,308.8" fill="none" stroke="#000" stroke-width="4.3" stroke-linejoin="miter"/></g>
<g clip-path="url(#cbag)"><path d="M1009,308.8 L1391,308.8" fill="none" stroke="#fff" stroke-width="4.3" stroke-linejoin="miter"/></g>
<circle cx="995" cy="307" r="12.8" fill="none" stroke="#fff" stroke-width="3.8"/>
<g><path d="M386.6,531.2 L626.5,531.2" fill="none" stroke="#000" stroke-width="4.3" stroke-linejoin="miter"/></g>
<g clip-path="url(#cbag)"><path d="M386.6,531.2 L626.5,531.2" fill="none" stroke="#fff" stroke-width="4.3" stroke-linejoin="miter"/></g>
<circle cx="638.9" cy="531.5" r="12.5" fill="none" stroke="#fff" stroke-width="3.6"/>
<g><path d="M327,810.7 L327,716.6 L630,716.6" fill="none" stroke="#000" stroke-width="4.3" stroke-linejoin="miter"/></g>
<g clip-path="url(#cbag)"><path d="M327,810.7 L327,716.6 L630,716.6" fill="none" stroke="#fff" stroke-width="4.3" stroke-linejoin="miter"/></g>
<circle cx="643.7" cy="715.5" r="14.2" fill="none" stroke="#fff" stroke-width="3.6"/>
<g><path d="M1572.3,589 L1572.3,635.4 L1115,635.4" fill="none" stroke="#000" stroke-width="4.3" stroke-linejoin="miter"/></g>
<g clip-path="url(#cbag)"><path d="M1572.3,589 L1572.3,635.4 L1115,635.4" fill="none" stroke="#fff" stroke-width="4.3" stroke-linejoin="miter"/></g>
<circle cx="1102" cy="635.4" r="12.4" fill="none" stroke="#fff" stroke-width="3.6"/>
<g><path d="M1436,836.3 L1690.8,836.3 M1306,934 L1690.8,934 M1690.8,834.2 L1690.8,988.4" fill="none" stroke="#000" stroke-width="4.3" stroke-linejoin="miter"/></g>
<g clip-path="url(#cp1)"><path d="M1436,836.3 L1600,836.3" fill="none" stroke="#fff" stroke-width="4.3" stroke-linejoin="miter"/></g>
<g clip-path="url(#cp2)"><path d="M1306,934 L1500,934" fill="none" stroke="#fff" stroke-width="4.3" stroke-linejoin="miter"/></g>
<circle cx="1422.5" cy="836.3" r="14.4" fill="none" stroke="#fff" stroke-width="3.7"/>
<circle cx="1292.5" cy="933.8" r="14.4" fill="none" stroke="#fff" stroke-width="3.7"/>
<rect x="769.1" y="1121.9" width="87.6" height="53.8" fill="#ececec"/>
<rect x="769.9" y="1122.5" width="86.0" height="52.4" fill="#fff"/>
<rect x="769.9" y="1122.65" width="86.0" height="3.73" fill="#da2a2e"/>
<rect x="769.9" y="1130.71" width="86.0" height="3.73" fill="#da2a2e"/>
<rect x="769.9" y="1138.77" width="86.0" height="3.73" fill="#da2a2e"/>
<rect x="769.9" y="1146.83" width="86.0" height="3.73" fill="#da2a2e"/>
<rect x="769.9" y="1154.90" width="86.0" height="3.73" fill="#da2a2e"/>
<rect x="769.9" y="1162.96" width="86.0" height="3.73" fill="#da2a2e"/>
<rect x="769.9" y="1171.02" width="86.0" height="3.73" fill="#da2a2e"/>
<rect x="769.9" y="1122.5" width="34" height="28.22" fill="#16267f"/>
<circle cx="772.90" cy="1125.45" r="1.0" fill="#fff"/><circle cx="778.60" cy="1125.45" r="1.0" fill="#fff"/><circle cx="784.30" cy="1125.45" r="1.0" fill="#fff"/><circle cx="790.00" cy="1125.45" r="1.0" fill="#fff"/><circle cx="795.70" cy="1125.45" r="1.0" fill="#fff"/><circle cx="801.40" cy="1125.45" r="1.0" fill="#fff"/><circle cx="775.75" cy="1128.28" r="1.0" fill="#fff"/><circle cx="781.45" cy="1128.28" r="1.0" fill="#fff"/><circle cx="787.15" cy="1128.28" r="1.0" fill="#fff"/><circle cx="792.85" cy="1128.28" r="1.0" fill="#fff"/><circle cx="798.55" cy="1128.28" r="1.0" fill="#fff"/><circle cx="772.90" cy="1131.11" r="1.0" fill="#fff"/><circle cx="778.60" cy="1131.11" r="1.0" fill="#fff"/><circle cx="784.30" cy="1131.11" r="1.0" fill="#fff"/><circle cx="790.00" cy="1131.11" r="1.0" fill="#fff"/><circle cx="795.70" cy="1131.11" r="1.0" fill="#fff"/><circle cx="801.40" cy="1131.11" r="1.0" fill="#fff"/><circle cx="775.75" cy="1133.94" r="1.0" fill="#fff"/><circle cx="781.45" cy="1133.94" r="1.0" fill="#fff"/><circle cx="787.15" cy="1133.94" r="1.0" fill="#fff"/><circle cx="792.85" cy="1133.94" r="1.0" fill="#fff"/><circle cx="798.55" cy="1133.94" r="1.0" fill="#fff"/><circle cx="772.90" cy="1136.77" r="1.0" fill="#fff"/><circle cx="778.60" cy="1136.77" r="1.0" fill="#fff"/><circle cx="784.30" cy="1136.77" r="1.0" fill="#fff"/><circle cx="790.00" cy="1136.77" r="1.0" fill="#fff"/><circle cx="795.70" cy="1136.77" r="1.0" fill="#fff"/><circle cx="801.40" cy="1136.77" r="1.0" fill="#fff"/><circle cx="775.75" cy="1139.60" r="1.0" fill="#fff"/><circle cx="781.45" cy="1139.60" r="1.0" fill="#fff"/><circle cx="787.15" cy="1139.60" r="1.0" fill="#fff"/><circle cx="792.85" cy="1139.60" r="1.0" fill="#fff"/><circle cx="798.55" cy="1139.60" r="1.0" fill="#fff"/><circle cx="772.90" cy="1142.43" r="1.0" fill="#fff"/><circle cx="778.60" cy="1142.43" r="1.0" fill="#fff"/><circle cx="784.30" cy="1142.43" r="1.0" fill="#fff"/><circle cx="790.00" cy="1142.43" r="1.0" fill="#fff"/><circle cx="795.70" cy="1142.43" r="1.0" fill="#fff"/><circle cx="801.40" cy="1142.43" r="1.0" fill="#fff"/><circle cx="775.75" cy="1145.26" r="1.0" fill="#fff"/><circle cx="781.45" cy="1145.26" r="1.0" fill="#fff"/><circle cx="787.15" cy="1145.26" r="1.0" fill="#fff"/><circle cx="792.85" cy="1145.26" r="1.0" fill="#fff"/><circle cx="798.55" cy="1145.26" r="1.0" fill="#fff"/><circle cx="772.90" cy="1148.09" r="1.0" fill="#fff"/><circle cx="778.60" cy="1148.09" r="1.0" fill="#fff"/><circle cx="784.30" cy="1148.09" r="1.0" fill="#fff"/><circle cx="790.00" cy="1148.09" r="1.0" fill="#fff"/><circle cx="795.70" cy="1148.09" r="1.0" fill="#fff"/><circle cx="801.40" cy="1148.09" r="1.0" fill="#fff"/>
</svg>
<div class="t" style="left:1049.08px;top:66.10px;font-size:49.5px;letter-spacing:2.2px;transform:scaleX(0.6174);text-shadow:0.45px 0 0 #000,-0.45px 0 0 #000">Top Carry Handle</div>
<div class="t" style="left:181.60px;top:202.00px;font-size:49.5px;letter-spacing:2.2px;transform:scaleX(0.6284);text-shadow:0.45px 0 0 #000,-0.45px 0 0 #000">Laptop Sleeve</div>
<div class="t" style="left:181.60px;top:253.10px;font-size:49.5px;letter-spacing:2.2px;transform:scaleX(0.6264);text-shadow:0.45px 0 0 #000,-0.45px 0 0 #000">Inside</div>
<div class="t" style="left:1420.76px;top:256.10px;font-size:49.5px;letter-spacing:2.2px;transform:scaleX(0.6109);text-shadow:0.45px 0 0 #000,-0.45px 0 0 #000">3 Quick Access</div>
<div class="t" style="left:1420.28px;top:306.80px;font-size:49.5px;letter-spacing:2.2px;transform:scaleX(0.6352);text-shadow:0.45px 0 0 #000,-0.45px 0 0 #000">External Pocket</div>
<div class="t" style="left:162.54px;top:480.20px;font-size:49.5px;letter-spacing:2.2px;transform:scaleX(0.6220);text-shadow:0.45px 0 0 #000,-0.45px 0 0 #000">2 Large Side</div>
<div class="t" style="left:162.68px;top:531.40px;font-size:49.5px;letter-spacing:2.2px;transform:scaleX(0.6335);text-shadow:0.45px 0 0 #000,-0.45px 0 0 #000">Pockets</div>
<div class="t" style="left:178.79px;top:833.50px;font-size:49.5px;letter-spacing:2.2px;transform:scaleX(0.6338);text-shadow:0.45px 0 0 #000,-0.45px 0 0 #000">Weather Resistant</div>
<div class="t" style="left:1447.09px;top:521.70px;font-size:49.5px;letter-spacing:2.2px;transform:scaleX(0.5934);text-shadow:0.45px 0 0 #000,-0.45px 0 0 #000">MOLLE Webbing</div>
<div class="t" style="left:1531.38px;top:1012.40px;font-size:49.5px;letter-spacing:2.2px;transform:scaleX(0.6297);text-shadow:0.45px 0 0 #000,-0.45px 0 0 #000">Webbing Attachable</div>
<div class="t" style="left:1531.27px;top:1062.40px;font-size:49.5px;letter-spacing:2.2px;transform:scaleX(0.6403);text-shadow:0.45px 0 0 #000,-0.45px 0 0 #000">External Storage</div>
<div class="t" style="left:904.52px;top:1122.72px;font-size:49px;letter-spacing:1.5px;transform:scaleX(0.6846);text-shadow:0.0px 0 0 #000,-0.0px 0 0 #000">American Engineering</div>
</body></html>
